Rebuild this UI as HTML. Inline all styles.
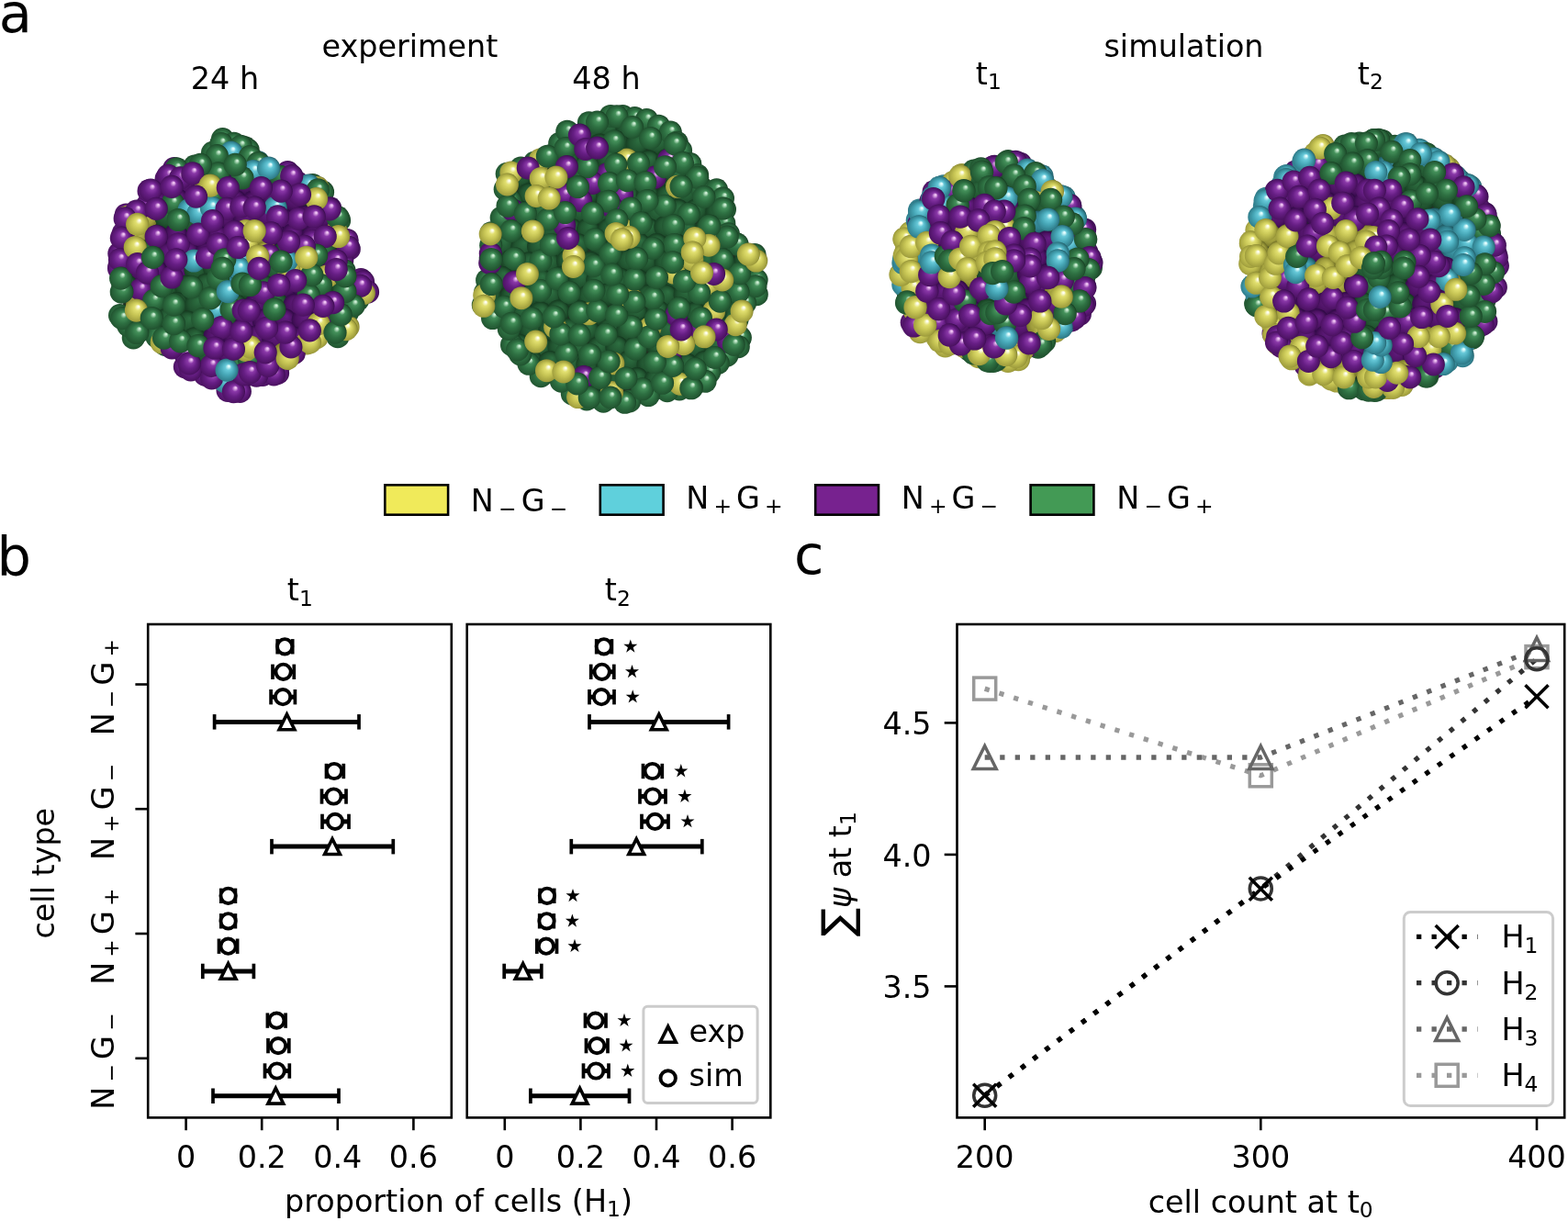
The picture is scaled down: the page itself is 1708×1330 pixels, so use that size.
<!DOCTYPE html>
<html><head><meta charset="utf-8"><style>html,body{margin:0;padding:0;background:#fff;}svg{display:block;}</style></head>
<body><svg width="1708" height="1330" viewBox="0 0 1708 1330" font-family="DejaVu Sans, Liberation Sans, sans-serif">
<rect width="1708" height="1330" fill="#fff"/>
<text x="-1.3" y="35.2" font-size="59" text-anchor="start" >a</text>
<text x="446.5" y="62.3" font-size="33.4" text-anchor="middle" >experiment</text>
<text x="1289.5" y="62.3" font-size="33.4" text-anchor="middle" >simulation</text>
<text x="245.0" y="97.2" font-size="33.4" text-anchor="middle" >24 h</text>
<text x="660.5" y="97.2" font-size="33.4" text-anchor="middle" >48 h</text>
<text x="1062.8" y="91.8" font-size="33.4" text-anchor="start">t<tspan font-size="23.38" dy="5.2">1</tspan></text>
<text x="1478.8" y="91.8" font-size="33.4" text-anchor="start">t<tspan font-size="23.38" dy="5.2">2</tspan></text>
<defs><radialGradient id="sP" cx="0.44" cy="0.56" r="0.6" fx="0.6" fy="0.32"><stop offset="0" stop-color="#f0c4f4"/><stop offset="0.05" stop-color="#f0c4f4" stop-opacity="1"/><stop offset="0.22" stop-color="#8a38a8"/><stop offset="0.48" stop-color="#661e84"/><stop offset="0.8" stop-color="#4c1262"/><stop offset="1" stop-color="#2a0840"/></radialGradient><radialGradient id="sG" cx="0.44" cy="0.56" r="0.6" fx="0.6" fy="0.32"><stop offset="0" stop-color="#cdeed4"/><stop offset="0.05" stop-color="#cdeed4" stop-opacity="1"/><stop offset="0.22" stop-color="#44905a"/><stop offset="0.48" stop-color="#2e7042"/><stop offset="0.8" stop-color="#215430"/><stop offset="1" stop-color="#12341c"/></radialGradient><radialGradient id="sY" cx="0.44" cy="0.56" r="0.6" fx="0.6" fy="0.32"><stop offset="0" stop-color="#fffff0"/><stop offset="0.05" stop-color="#fffff0" stop-opacity="1"/><stop offset="0.22" stop-color="#e2e070"/><stop offset="0.48" stop-color="#c6c454"/><stop offset="0.8" stop-color="#9e9c3c"/><stop offset="1" stop-color="#686822"/></radialGradient><radialGradient id="sC" cx="0.44" cy="0.56" r="0.6" fx="0.6" fy="0.32"><stop offset="0" stop-color="#e4ffff"/><stop offset="0.05" stop-color="#e4ffff" stop-opacity="1"/><stop offset="0.22" stop-color="#66c8d8"/><stop offset="0.48" stop-color="#46a6b6"/><stop offset="0.8" stop-color="#2f7c8a"/><stop offset="1" stop-color="#1a4e56"/></radialGradient><radialGradient id="sPd" cx="0.46" cy="0.54" r="0.56" fx="0.6" fy="0.32"><stop offset="0" stop-color="#661e84"/><stop offset="0.6" stop-color="#4c1262"/><stop offset="1" stop-color="#2a0840"/></radialGradient><radialGradient id="sGd" cx="0.46" cy="0.54" r="0.56" fx="0.6" fy="0.32"><stop offset="0" stop-color="#2e7042"/><stop offset="0.6" stop-color="#215430"/><stop offset="1" stop-color="#12341c"/></radialGradient><radialGradient id="sYd" cx="0.46" cy="0.54" r="0.56" fx="0.6" fy="0.32"><stop offset="0" stop-color="#c6c454"/><stop offset="0.6" stop-color="#9e9c3c"/><stop offset="1" stop-color="#686822"/></radialGradient><radialGradient id="sCd" cx="0.46" cy="0.54" r="0.56" fx="0.6" fy="0.32"><stop offset="0" stop-color="#46a6b6"/><stop offset="0.6" stop-color="#2f7c8a"/><stop offset="1" stop-color="#1a4e56"/></radialGradient></defs>
<polygon points="243.1,154.7 266.8,162.8 270.1,165.1 280.9,176.9 289.6,183.4 313.4,187.7 324.2,198.5 340.4,201.9 351.2,209.4 348.0,222.4 359.9,226.7 369.7,239.8 367.5,252.7 378.3,261.4 380.5,271.1 374.0,283.1 376.2,294.9 392.4,304.7 394.5,306.8 398.9,317.7 389.1,326.3 378.3,340.4 378.3,355.6 367.5,366.4 345.8,368.6 335.0,375.0 320.9,385.9 308.0,394.6 302.6,406.4 286.3,408.6 270.1,408.6 270.1,420.6 261.4,424.9 248.4,423.8 245.1,415.1 223.5,407.5 201.8,398.9 201.8,385.9 180.2,375.0 171.5,366.4 147.8,366.4 142.3,353.4 133.6,342.5 134.7,317.7 135.8,307.9 132.5,290.6 132.5,276.6 136.9,254.9 140.1,235.4 161.8,224.6 164.0,209.4 182.4,196.4 191.0,185.6 212.6,182.3 232.2,168.2" fill="#243024"/>
<circle cx="245.0" cy="164.1" r="12.6" fill="url(#sGd)"/>
<circle cx="235.3" cy="182.1" r="12.6" fill="url(#sGd)"/>
<circle cx="257.7" cy="184.0" r="12.6" fill="url(#sGd)"/>
<circle cx="277.8" cy="182.9" r="12.6" fill="url(#sCd)"/>
<circle cx="181.0" cy="202.2" r="12.6" fill="url(#sPd)"/>
<circle cx="201.3" cy="200.6" r="12.6" fill="url(#sPd)"/>
<circle cx="224.5" cy="202.3" r="12.6" fill="url(#sYd)"/>
<circle cx="246.9" cy="202.2" r="12.6" fill="url(#sPd)"/>
<circle cx="266.3" cy="200.5" r="12.6" fill="url(#sPd)"/>
<circle cx="288.0" cy="202.3" r="12.6" fill="url(#sPd)"/>
<circle cx="311.7" cy="199.5" r="12.6" fill="url(#sPd)"/>
<circle cx="170.8" cy="219.8" r="12.6" fill="url(#sPd)"/>
<circle cx="192.8" cy="217.7" r="12.6" fill="url(#sPd)"/>
<circle cx="215.1" cy="220.4" r="12.6" fill="url(#sPd)"/>
<circle cx="236.4" cy="220.5" r="12.6" fill="url(#sPd)"/>
<circle cx="256.0" cy="219.0" r="12.6" fill="url(#sPd)"/>
<circle cx="276.4" cy="219.9" r="12.6" fill="url(#sPd)"/>
<circle cx="297.6" cy="217.7" r="12.6" fill="url(#sPd)"/>
<circle cx="319.6" cy="218.1" r="12.6" fill="url(#sPd)"/>
<circle cx="159.1" cy="237.4" r="12.6" fill="url(#sYd)"/>
<circle cx="180.9" cy="236.5" r="12.6" fill="url(#sGd)"/>
<circle cx="204.2" cy="239.8" r="12.6" fill="url(#sGd)"/>
<circle cx="224.2" cy="237.9" r="12.6" fill="url(#sPd)"/>
<circle cx="244.2" cy="236.4" r="12.6" fill="url(#sPd)"/>
<circle cx="266.5" cy="237.0" r="12.6" fill="url(#sPd)"/>
<circle cx="289.8" cy="236.7" r="12.6" fill="url(#sPd)"/>
<circle cx="308.2" cy="239.6" r="12.6" fill="url(#sPd)"/>
<circle cx="331.5" cy="236.6" r="12.6" fill="url(#sPd)"/>
<circle cx="353.0" cy="236.1" r="12.6" fill="url(#sPd)"/>
<circle cx="148.1" cy="257.5" r="12.6" fill="url(#sYd)"/>
<circle cx="170.9" cy="257.5" r="12.6" fill="url(#sPd)"/>
<circle cx="191.5" cy="255.4" r="12.6" fill="url(#sPd)"/>
<circle cx="214.8" cy="258.3" r="12.6" fill="url(#sPd)"/>
<circle cx="236.3" cy="257.6" r="12.6" fill="url(#sPd)"/>
<circle cx="257.6" cy="257.4" r="12.6" fill="url(#sPd)"/>
<circle cx="276.8" cy="256.6" r="12.6" fill="url(#sYd)"/>
<circle cx="298.7" cy="254.7" r="12.6" fill="url(#sPd)"/>
<circle cx="318.9" cy="255.7" r="12.6" fill="url(#sPd)"/>
<circle cx="341.2" cy="257.2" r="12.6" fill="url(#sPd)"/>
<circle cx="137.6" cy="274.0" r="12.6" fill="url(#sYd)"/>
<circle cx="158.9" cy="273.9" r="12.6" fill="url(#sGd)"/>
<circle cx="181.9" cy="276.5" r="12.6" fill="url(#sPd)"/>
<circle cx="204.2" cy="275.0" r="12.6" fill="url(#sPd)"/>
<circle cx="224.9" cy="276.2" r="12.6" fill="url(#sPd)"/>
<circle cx="244.2" cy="275.6" r="12.6" fill="url(#sGd)"/>
<circle cx="268.7" cy="276.1" r="12.6" fill="url(#sPd)"/>
<circle cx="289.5" cy="275.0" r="12.6" fill="url(#sYd)"/>
<circle cx="308.8" cy="276.1" r="12.6" fill="url(#sGd)"/>
<circle cx="330.8" cy="276.2" r="12.6" fill="url(#sYd)"/>
<circle cx="354.6" cy="274.6" r="12.6" fill="url(#sGd)"/>
<circle cx="150.9" cy="294.7" r="12.6" fill="url(#sPd)"/>
<circle cx="169.4" cy="294.8" r="12.6" fill="url(#sPd)"/>
<circle cx="194.0" cy="294.2" r="12.6" fill="url(#sPd)"/>
<circle cx="213.0" cy="293.8" r="12.6" fill="url(#sGd)"/>
<circle cx="233.6" cy="291.7" r="12.6" fill="url(#sGd)"/>
<circle cx="258.2" cy="294.2" r="12.6" fill="url(#sGd)"/>
<circle cx="278.0" cy="295.2" r="12.6" fill="url(#sPd)"/>
<circle cx="299.0" cy="295.0" r="12.6" fill="url(#sGd)"/>
<circle cx="321.9" cy="292.5" r="12.6" fill="url(#sPd)"/>
<circle cx="341.2" cy="292.8" r="12.6" fill="url(#sGd)"/>
<circle cx="362.5" cy="293.9" r="12.6" fill="url(#sPd)"/>
<circle cx="138.1" cy="312.0" r="12.6" fill="url(#sGd)"/>
<circle cx="160.4" cy="313.7" r="12.6" fill="url(#sGd)"/>
<circle cx="181.2" cy="313.7" r="12.6" fill="url(#sGd)"/>
<circle cx="202.9" cy="312.3" r="12.6" fill="url(#sGd)"/>
<circle cx="224.4" cy="310.3" r="12.6" fill="url(#sGd)"/>
<circle cx="245.5" cy="310.9" r="12.6" fill="url(#sCd)"/>
<circle cx="265.3" cy="313.3" r="12.6" fill="url(#sGd)"/>
<circle cx="287.3" cy="312.0" r="12.6" fill="url(#sGd)"/>
<circle cx="310.8" cy="312.3" r="12.6" fill="url(#sPd)"/>
<circle cx="330.7" cy="312.2" r="12.6" fill="url(#sPd)"/>
<circle cx="353.0" cy="313.2" r="12.6" fill="url(#sGd)"/>
<circle cx="372.8" cy="312.4" r="12.6" fill="url(#sGd)"/>
<circle cx="149.6" cy="331.7" r="12.6" fill="url(#sYd)"/>
<circle cx="172.3" cy="330.5" r="12.6" fill="url(#sGd)"/>
<circle cx="192.6" cy="330.7" r="12.6" fill="url(#sGd)"/>
<circle cx="213.6" cy="331.4" r="12.6" fill="url(#sGd)"/>
<circle cx="234.8" cy="330.8" r="12.6" fill="url(#sGd)"/>
<circle cx="256.3" cy="332.4" r="12.6" fill="url(#sGd)"/>
<circle cx="278.6" cy="332.1" r="12.6" fill="url(#sPd)"/>
<circle cx="300.9" cy="329.8" r="12.6" fill="url(#sGd)"/>
<circle cx="320.9" cy="332.4" r="12.6" fill="url(#sPd)"/>
<circle cx="343.4" cy="329.3" r="12.6" fill="url(#sPd)"/>
<circle cx="362.1" cy="330.5" r="12.6" fill="url(#sPd)"/>
<circle cx="158.7" cy="350.1" r="12.6" fill="url(#sGd)"/>
<circle cx="182.1" cy="347.9" r="12.6" fill="url(#sGd)"/>
<circle cx="204.3" cy="351.0" r="12.6" fill="url(#sGd)"/>
<circle cx="223.2" cy="350.9" r="12.6" fill="url(#sGd)"/>
<circle cx="245.3" cy="349.2" r="12.6" fill="url(#sGd)"/>
<circle cx="269.0" cy="350.5" r="12.6" fill="url(#sPd)"/>
<circle cx="287.3" cy="349.0" r="12.6" fill="url(#sPd)"/>
<circle cx="310.0" cy="348.6" r="12.6" fill="url(#sPd)"/>
<circle cx="330.2" cy="348.6" r="12.6" fill="url(#sPd)"/>
<circle cx="353.7" cy="347.4" r="12.6" fill="url(#sPd)"/>
<circle cx="190.7" cy="366.9" r="12.6" fill="url(#sGd)"/>
<circle cx="211.8" cy="368.8" r="12.6" fill="url(#sGd)"/>
<circle cx="234.1" cy="366.4" r="12.6" fill="url(#sPd)"/>
<circle cx="256.1" cy="369.3" r="12.6" fill="url(#sPd)"/>
<circle cx="279.1" cy="366.9" r="12.6" fill="url(#sPd)"/>
<circle cx="297.9" cy="369.4" r="12.6" fill="url(#sPd)"/>
<circle cx="321.0" cy="368.5" r="12.6" fill="url(#sPd)"/>
<circle cx="223.4" cy="384.9" r="12.6" fill="url(#sGd)"/>
<circle cx="245.8" cy="385.3" r="12.6" fill="url(#sPd)"/>
<circle cx="265.7" cy="385.1" r="12.6" fill="url(#sPd)"/>
<circle cx="286.9" cy="385.2" r="12.6" fill="url(#sPd)"/>
<circle cx="309.3" cy="385.6" r="12.6" fill="url(#sYd)"/>
<circle cx="234.6" cy="404.9" r="12.6" fill="url(#sCd)"/>
<circle cx="257.1" cy="406.7" r="12.6" fill="url(#sPd)"/>
<circle cx="242.5" cy="151.6" r="12.6" fill="url(#sG)"/>
<circle cx="254.7" cy="156.3" r="12.6" fill="url(#sG)"/>
<circle cx="266.8" cy="160.8" r="12.6" fill="url(#sG)"/>
<circle cx="270.1" cy="163.4" r="12.6" fill="url(#sG)"/>
<circle cx="280.9" cy="176.5" r="12.6" fill="url(#sC)"/>
<circle cx="289.6" cy="183.6" r="12.6" fill="url(#sC)"/>
<circle cx="313.4" cy="187.7" r="12.6" fill="url(#sP)"/>
<circle cx="324.0" cy="199.0" r="12.6" fill="url(#sP)"/>
<circle cx="340.6" cy="201.7" r="12.6" fill="url(#sG)"/>
<circle cx="351.5" cy="209.2" r="12.6" fill="url(#sG)"/>
<circle cx="347.3" cy="223.1" r="12.6" fill="url(#sY)"/>
<circle cx="359.7" cy="226.9" r="12.6" fill="url(#sP)"/>
<circle cx="369.5" cy="239.9" r="12.6" fill="url(#sG)"/>
<circle cx="366.6" cy="253.2" r="12.6" fill="url(#sY)"/>
<circle cx="378.1" cy="261.5" r="12.6" fill="url(#sP)"/>
<circle cx="380.2" cy="271.2" r="12.6" fill="url(#sP)"/>
<circle cx="372.7" cy="283.2" r="12.6" fill="url(#sP)"/>
<circle cx="375.0" cy="294.9" r="12.6" fill="url(#sG)"/>
<circle cx="393.1" cy="304.7" r="12.6" fill="url(#sP)"/>
<circle cx="395.5" cy="306.9" r="12.6" fill="url(#sP)"/>
<circle cx="400.5" cy="318.0" r="12.6" fill="url(#sP)"/>
<circle cx="389.8" cy="326.5" r="12.6" fill="url(#sG)"/>
<circle cx="378.4" cy="340.4" r="12.6" fill="url(#sG)"/>
<circle cx="379.0" cy="356.0" r="12.6" fill="url(#sY)"/>
<circle cx="367.9" cy="366.7" r="12.6" fill="url(#sG)"/>
<circle cx="344.9" cy="367.7" r="12.6" fill="url(#sY)"/>
<circle cx="334.1" cy="373.8" r="12.6" fill="url(#sY)"/>
<circle cx="320.2" cy="384.7" r="12.6" fill="url(#sP)"/>
<circle cx="307.5" cy="393.5" r="12.6" fill="url(#sY)"/>
<circle cx="302.5" cy="406.4" r="12.6" fill="url(#sP)"/>
<circle cx="286.2" cy="408.4" r="12.6" fill="url(#sP)"/>
<circle cx="270.1" cy="408.2" r="12.6" fill="url(#sP)"/>
<circle cx="261.3" cy="426.4" r="12.6" fill="url(#sP)"/>
<circle cx="248.1" cy="425.3" r="12.6" fill="url(#sP)"/>
<circle cx="245.0" cy="415.7" r="12.6" fill="url(#sC)"/>
<circle cx="223.3" cy="408.1" r="12.6" fill="url(#sP)"/>
<circle cx="201.4" cy="399.6" r="12.6" fill="url(#sP)"/>
<circle cx="202.0" cy="385.7" r="12.6" fill="url(#sP)"/>
<circle cx="179.9" cy="375.4" r="12.6" fill="url(#sG)"/>
<circle cx="171.0" cy="366.8" r="12.6" fill="url(#sG)"/>
<circle cx="145.3" cy="367.8" r="12.6" fill="url(#sG)"/>
<circle cx="139.7" cy="354.6" r="12.6" fill="url(#sG)"/>
<circle cx="130.6" cy="343.6" r="12.6" fill="url(#sG)"/>
<circle cx="132.3" cy="318.1" r="12.6" fill="url(#sG)"/>
<circle cx="133.6" cy="308.1" r="12.6" fill="url(#sG)"/>
<circle cx="130.0" cy="290.5" r="12.6" fill="url(#sP)"/>
<circle cx="129.9" cy="276.2" r="12.6" fill="url(#sP)"/>
<circle cx="134.3" cy="254.1" r="12.6" fill="url(#sP)"/>
<circle cx="137.3" cy="234.0" r="12.6" fill="url(#sP)"/>
<circle cx="160.4" cy="223.7" r="12.6" fill="url(#sP)"/>
<circle cx="162.1" cy="207.9" r="12.6" fill="url(#sP)"/>
<circle cx="181.1" cy="194.9" r="12.6" fill="url(#sP)"/>
<circle cx="189.7" cy="183.7" r="12.6" fill="url(#sP)"/>
<circle cx="212.0" cy="181.2" r="12.6" fill="url(#sG)"/>
<circle cx="231.6" cy="166.3" r="12.6" fill="url(#sG)"/>
<circle cx="140.1" cy="235.9" r="12.6" fill="url(#sY)"/>
<circle cx="241.0" cy="156.5" r="12.6" fill="url(#sG)"/>
<circle cx="148.4" cy="362.5" r="12.6" fill="url(#sG)"/>
<circle cx="148.7" cy="230.1" r="12.6" fill="url(#sP)"/>
<circle cx="262.2" cy="159.4" r="12.6" fill="url(#sG)"/>
<circle cx="192.3" cy="183.8" r="12.6" fill="url(#sG)"/>
<circle cx="183.1" cy="191.3" r="12.6" fill="url(#sP)"/>
<circle cx="252.0" cy="166.1" r="12.6" fill="url(#sC)"/>
<circle cx="236.3" cy="169.7" r="12.6" fill="url(#sG)"/>
<circle cx="396.3" cy="319.3" r="12.6" fill="url(#sY)"/>
<circle cx="196.6" cy="193.8" r="12.6" fill="url(#sP)"/>
<circle cx="272.3" cy="170.6" r="12.6" fill="url(#sG)"/>
<circle cx="207.8" cy="402.9" r="12.6" fill="url(#sP)"/>
<circle cx="230.6" cy="411.8" r="12.6" fill="url(#sP)"/>
<circle cx="176.3" cy="373.0" r="12.6" fill="url(#sY)"/>
<circle cx="281.3" cy="177.7" r="12.6" fill="url(#sG)"/>
<circle cx="153.3" cy="315.3" r="12.6" fill="url(#sP)"/>
<circle cx="345.8" cy="204.4" r="12.6" fill="url(#sY)"/>
<circle cx="187.2" cy="378.9" r="12.6" fill="url(#sP)"/>
<circle cx="178.6" cy="368.2" r="12.6" fill="url(#sG)"/>
<circle cx="298.3" cy="407.9" r="12.6" fill="url(#sP)"/>
<circle cx="336.2" cy="202.2" r="12.6" fill="url(#sC)"/>
<circle cx="279.4" cy="409.2" r="12.6" fill="url(#sP)"/>
<circle cx="237.5" cy="188.9" r="12.6" fill="url(#sG)"/>
<circle cx="188.2" cy="221.4" r="12.6" fill="url(#sG)"/>
<circle cx="230.3" cy="398.3" r="12.6" fill="url(#sP)"/>
<circle cx="276.0" cy="186.5" r="12.6" fill="url(#sC)"/>
<circle cx="306.1" cy="192.6" r="12.6" fill="url(#sG)"/>
<circle cx="167.7" cy="327.3" r="12.6" fill="url(#sG)"/>
<circle cx="264.0" cy="193.8" r="12.6" fill="url(#sG)"/>
<circle cx="261.6" cy="394.7" r="12.6" fill="url(#sG)"/>
<circle cx="347.0" cy="352.6" r="12.6" fill="url(#sY)"/>
<circle cx="271.2" cy="391.1" r="12.6" fill="url(#sG)"/>
<circle cx="206.2" cy="228.6" r="12.6" fill="url(#sC)"/>
<circle cx="230.3" cy="214.2" r="12.6" fill="url(#sG)"/>
<circle cx="356.6" cy="300.8" r="12.6" fill="url(#sY)"/>
<circle cx="267.6" cy="381.4" r="12.6" fill="url(#sY)"/>
<circle cx="215.9" cy="232.3" r="12.6" fill="url(#sC)"/>
<circle cx="272.4" cy="377.8" r="12.6" fill="url(#sY)"/>
<circle cx="230.3" cy="226.2" r="12.6" fill="url(#sC)"/>
<circle cx="349.4" cy="310.5" r="12.6" fill="url(#sG)"/>
<circle cx="325.3" cy="238.3" r="12.6" fill="url(#sP)"/>
<circle cx="341.0" cy="262.3" r="12.6" fill="url(#sP)"/>
<circle cx="300.1" cy="226.2" r="12.6" fill="url(#sC)"/>
<circle cx="336.2" cy="321.3" r="12.6" fill="url(#sG)"/>
<circle cx="236.3" cy="352.6" r="12.6" fill="url(#sP)"/>
<circle cx="335.0" cy="292.4" r="12.6" fill="url(#sY)"/>
<circle cx="211.1" cy="284.0" r="12.6" fill="url(#sC)"/>
<circle cx="235.1" cy="338.1" r="12.6" fill="url(#sC)"/>
<circle cx="225.5" cy="280.4" r="12.6" fill="url(#sP)"/>
<circle cx="267.6" cy="251.5" r="12.6" fill="url(#sY)"/>
<circle cx="314.5" cy="293.6" r="12.6" fill="url(#sY)"/>
<circle cx="312.1" cy="284.0" r="12.6" fill="url(#sC)"/>
<circle cx="268.8" cy="265.9" r="12.6" fill="url(#sY)"/>
<circle cx="292.9" cy="278.0" r="12.6" fill="url(#sP)"/>
<circle cx="286.8" cy="318.9" r="12.6" fill="url(#sP)"/>
<circle cx="261.6" cy="285.2" r="12.6" fill="url(#sC)"/>
<circle cx="260.4" cy="292.4" r="12.6" fill="url(#sC)"/>
<circle cx="241.4" cy="356.6" r="12.6" fill="url(#sP)"/>
<circle cx="132.9" cy="346.7" r="12.6" fill="url(#sG)"/>
<circle cx="136.2" cy="237.9" r="12.6" fill="url(#sP)"/>
<circle cx="132.4" cy="259.2" r="12.6" fill="url(#sP)"/>
<circle cx="129.6" cy="292.5" r="12.6" fill="url(#sP)"/>
<circle cx="130.5" cy="282.8" r="12.6" fill="url(#sP)"/>
<circle cx="132.9" cy="317.7" r="12.6" fill="url(#sG)"/>
<circle cx="131.7" cy="303.2" r="12.6" fill="url(#sG)"/>
<circle cx="164.1" cy="207.0" r="12.6" fill="url(#sP)"/>
<circle cx="149.7" cy="362.2" r="12.6" fill="url(#sG)"/>
<circle cx="149.7" cy="244.3" r="12.6" fill="url(#sY)"/>
<circle cx="254.4" cy="426.6" r="12.6" fill="url(#sP)"/>
<circle cx="148.5" cy="338.1" r="12.6" fill="url(#sY)"/>
<circle cx="218.3" cy="179.3" r="12.6" fill="url(#sG)"/>
<circle cx="147.3" cy="269.5" r="12.6" fill="url(#sY)"/>
<circle cx="187.0" cy="203.4" r="12.6" fill="url(#sP)"/>
<circle cx="377.0" cy="358.6" r="12.6" fill="url(#sY)"/>
<circle cx="209.8" cy="188.9" r="12.6" fill="url(#sP)"/>
<circle cx="392.6" cy="311.3" r="12.6" fill="url(#sP)"/>
<circle cx="170.2" cy="227.4" r="12.6" fill="url(#sP)"/>
<circle cx="149.7" cy="287.6" r="12.6" fill="url(#sP)"/>
<circle cx="385.1" cy="332.8" r="12.6" fill="url(#sG)"/>
<circle cx="206.2" cy="395.9" r="12.6" fill="url(#sP)"/>
<circle cx="256.2" cy="179.3" r="12.6" fill="url(#sG)"/>
<circle cx="346.3" cy="206.9" r="12.6" fill="url(#sG)"/>
<circle cx="165.3" cy="346.5" r="12.6" fill="url(#sG)"/>
<circle cx="365.0" cy="362.2" r="12.6" fill="url(#sG)"/>
<circle cx="292.6" cy="183.2" r="12.6" fill="url(#sC)"/>
<circle cx="317.7" cy="191.7" r="12.6" fill="url(#sP)"/>
<circle cx="368.1" cy="236.9" r="12.6" fill="url(#sG)"/>
<circle cx="265.2" cy="407.9" r="12.6" fill="url(#sP)"/>
<circle cx="359.1" cy="227.8" r="12.6" fill="url(#sP)"/>
<circle cx="379.0" cy="269.1" r="12.6" fill="url(#sP)"/>
<circle cx="371.1" cy="342.9" r="12.6" fill="url(#sG)"/>
<circle cx="160.5" cy="297.2" r="12.6" fill="url(#sP)"/>
<circle cx="247.1" cy="403.1" r="12.6" fill="url(#sC)"/>
<circle cx="272.4" cy="405.5" r="12.6" fill="url(#sP)"/>
<circle cx="344.6" cy="216.6" r="12.6" fill="url(#sY)"/>
<circle cx="170.2" cy="257.5" r="12.6" fill="url(#sP)"/>
<circle cx="375.9" cy="317.7" r="12.6" fill="url(#sG)"/>
<circle cx="196.6" cy="371.8" r="12.6" fill="url(#sG)"/>
<circle cx="368.6" cy="257.5" r="12.6" fill="url(#sY)"/>
<circle cx="375.9" cy="300.8" r="12.6" fill="url(#sG)"/>
<circle cx="166.5" cy="280.4" r="12.6" fill="url(#sG)"/>
<circle cx="291.7" cy="398.3" r="12.6" fill="url(#sP)"/>
<circle cx="313.2" cy="390.4" r="12.6" fill="url(#sY)"/>
<circle cx="229.1" cy="202.2" r="12.6" fill="url(#sY)"/>
<circle cx="337.5" cy="372.8" r="12.6" fill="url(#sY)"/>
<circle cx="326.5" cy="211.8" r="12.6" fill="url(#sP)"/>
<circle cx="213.5" cy="214.2" r="12.6" fill="url(#sP)"/>
<circle cx="189.4" cy="352.6" r="12.6" fill="url(#sG)"/>
<circle cx="362.6" cy="329.7" r="12.6" fill="url(#sP)"/>
<circle cx="215.9" cy="376.6" r="12.6" fill="url(#sG)"/>
<circle cx="366.2" cy="284.0" r="12.6" fill="url(#sP)"/>
<circle cx="176.2" cy="311.7" r="12.6" fill="url(#sG)"/>
<circle cx="366.2" cy="293.6" r="12.6" fill="url(#sP)"/>
<circle cx="194.2" cy="239.5" r="12.6" fill="url(#sG)"/>
<circle cx="306.1" cy="208.2" r="12.6" fill="url(#sP)"/>
<circle cx="248.3" cy="204.6" r="12.6" fill="url(#sP)"/>
<circle cx="316.9" cy="377.8" r="12.6" fill="url(#sP)"/>
<circle cx="342.2" cy="235.9" r="12.6" fill="url(#sP)"/>
<circle cx="284.4" cy="204.6" r="12.6" fill="url(#sP)"/>
<circle cx="337.4" cy="359.8" r="12.6" fill="url(#sP)"/>
<circle cx="354.2" cy="257.5" r="12.6" fill="url(#sP)"/>
<circle cx="233.9" cy="379.0" r="12.6" fill="url(#sP)"/>
<circle cx="289.2" cy="383.8" r="12.6" fill="url(#sP)"/>
<circle cx="351.8" cy="333.3" r="12.6" fill="url(#sP)"/>
<circle cx="189.4" cy="332.1" r="12.6" fill="url(#sG)"/>
<circle cx="254.4" cy="380.2" r="12.6" fill="url(#sP)"/>
<circle cx="187.0" cy="302.0" r="12.6" fill="url(#sP)"/>
<circle cx="194.2" cy="265.9" r="12.6" fill="url(#sP)"/>
<circle cx="191.8" cy="282.8" r="12.6" fill="url(#sP)"/>
<circle cx="310.9" cy="362.2" r="12.6" fill="url(#sP)"/>
<circle cx="344.6" cy="278.0" r="12.6" fill="url(#sG)"/>
<circle cx="247.1" cy="227.4" r="12.6" fill="url(#sP)"/>
<circle cx="220.7" cy="347.7" r="12.6" fill="url(#sG)"/>
<circle cx="262.8" cy="225.0" r="12.6" fill="url(#sP)"/>
<circle cx="277.2" cy="226.2" r="12.6" fill="url(#sP)"/>
<circle cx="330.2" cy="332.1" r="12.6" fill="url(#sP)"/>
<circle cx="339.8" cy="299.6" r="12.6" fill="url(#sG)"/>
<circle cx="215.9" cy="255.1" r="12.6" fill="url(#sP)"/>
<circle cx="302.5" cy="235.9" r="12.6" fill="url(#sP)"/>
<circle cx="231.5" cy="240.7" r="12.6" fill="url(#sP)"/>
<circle cx="331.4" cy="268.3" r="12.6" fill="url(#sP)"/>
<circle cx="262.8" cy="361.0" r="12.6" fill="url(#sP)"/>
<circle cx="333.8" cy="280.4" r="12.6" fill="url(#sY)"/>
<circle cx="290.5" cy="357.4" r="12.6" fill="url(#sP)"/>
<circle cx="208.6" cy="312.9" r="12.6" fill="url(#sG)"/>
<circle cx="314.5" cy="263.5" r="12.6" fill="url(#sP)"/>
<circle cx="321.7" cy="305.6" r="12.6" fill="url(#sP)"/>
<circle cx="229.1" cy="324.9" r="12.6" fill="url(#sG)"/>
<circle cx="298.9" cy="336.9" r="12.6" fill="url(#sG)"/>
<circle cx="295.3" cy="253.9" r="12.6" fill="url(#sP)"/>
<circle cx="255.6" cy="252.7" r="12.6" fill="url(#sP)"/>
<circle cx="277.2" cy="251.5" r="12.6" fill="url(#sY)"/>
<circle cx="252.0" cy="336.9" r="12.6" fill="url(#sG)"/>
<circle cx="237.5" cy="265.9" r="12.6" fill="url(#sP)"/>
<circle cx="265.2" cy="338.1" r="12.6" fill="url(#sP)"/>
<circle cx="271.2" cy="338.1" r="12.6" fill="url(#sP)"/>
<circle cx="306.1" cy="285.2" r="12.6" fill="url(#sG)"/>
<circle cx="303.7" cy="310.5" r="12.6" fill="url(#sP)"/>
<circle cx="237.5" cy="303.2" r="12.6" fill="url(#sG)"/>
<circle cx="248.3" cy="317.7" r="12.6" fill="url(#sC)"/>
<circle cx="244.7" cy="282.8" r="12.6" fill="url(#sG)"/>
<circle cx="259.2" cy="269.5" r="12.6" fill="url(#sP)"/>
<circle cx="242.3" cy="292.4" r="12.6" fill="url(#sG)"/>
<circle cx="280.8" cy="279.2" r="12.6" fill="url(#sY)"/>
<circle cx="264.0" cy="309.2" r="12.6" fill="url(#sG)"/>
<circle cx="272.4" cy="310.5" r="12.6" fill="url(#sG)"/>
<circle cx="282.0" cy="292.4" r="12.6" fill="url(#sP)"/>
<polygon points="665.9,131.6 678.6,131.6 703.9,135.1 729.2,147.7 736.1,158.0 740.7,166.1 751.1,179.9 759.1,191.4 763.7,204.1 779.8,207.5 786.7,216.7 789.1,228.2 789.1,243.2 793.7,254.7 802.8,266.2 820.1,277.7 820.7,283.5 821.9,304.8 821.9,320.2 810.1,329.7 801.8,347.5 804.2,366.4 801.8,375.9 790.0,385.4 780.5,393.6 771.1,403.1 766.3,412.5 752.1,419.6 726.1,423.2 705.9,428.0 685.7,433.9 680.8,435.0 658.0,433.9 640.3,431.4 624.9,425.6 613.0,412.5 591.7,406.7 578.7,393.6 560.9,373.5 557.4,356.9 540.8,345.0 531.3,330.9 534.9,304.8 538.4,283.5 538.1,281.1 539.3,254.7 549.7,238.6 558.8,220.2 554.3,208.7 556.6,192.6 585.3,179.9 603.8,171.9 619.9,147.7 642.8,138.5" fill="#243024"/>
<circle cx="643.3" cy="140.0" r="12.5" fill="url(#sGd)"/>
<circle cx="662.4" cy="139.5" r="12.5" fill="url(#sGd)"/>
<circle cx="682.8" cy="138.7" r="12.5" fill="url(#sGd)"/>
<circle cx="703.6" cy="138.2" r="12.5" fill="url(#sGd)"/>
<circle cx="630.0" cy="157.9" r="12.5" fill="url(#sGd)"/>
<circle cx="653.3" cy="158.0" r="12.5" fill="url(#sGd)"/>
<circle cx="672.2" cy="154.9" r="12.5" fill="url(#sGd)"/>
<circle cx="694.0" cy="156.9" r="12.5" fill="url(#sGd)"/>
<circle cx="716.8" cy="157.0" r="12.5" fill="url(#sGd)"/>
<circle cx="618.6" cy="174.4" r="12.5" fill="url(#sGd)"/>
<circle cx="641.6" cy="173.7" r="12.5" fill="url(#sGd)"/>
<circle cx="662.5" cy="174.2" r="12.5" fill="url(#sGd)"/>
<circle cx="685.6" cy="176.5" r="12.5" fill="url(#sGd)"/>
<circle cx="706.5" cy="176.0" r="12.5" fill="url(#sGd)"/>
<circle cx="726.8" cy="174.2" r="12.5" fill="url(#sGd)"/>
<circle cx="567.0" cy="192.4" r="12.5" fill="url(#sGd)"/>
<circle cx="589.1" cy="193.5" r="12.5" fill="url(#sGd)"/>
<circle cx="611.4" cy="191.7" r="12.5" fill="url(#sGd)"/>
<circle cx="631.1" cy="192.5" r="12.5" fill="url(#sGd)"/>
<circle cx="651.3" cy="193.6" r="12.5" fill="url(#sGd)"/>
<circle cx="673.3" cy="192.2" r="12.5" fill="url(#sGd)"/>
<circle cx="695.9" cy="193.1" r="12.5" fill="url(#sGd)"/>
<circle cx="717.4" cy="192.2" r="12.5" fill="url(#sGd)"/>
<circle cx="736.5" cy="192.4" r="12.5" fill="url(#sGd)"/>
<circle cx="576.0" cy="211.8" r="12.5" fill="url(#sGd)"/>
<circle cx="599.8" cy="212.2" r="12.5" fill="url(#sGd)"/>
<circle cx="618.9" cy="213.8" r="12.5" fill="url(#sGd)"/>
<circle cx="640.9" cy="210.3" r="12.5" fill="url(#sGd)"/>
<circle cx="661.6" cy="213.4" r="12.5" fill="url(#sGd)"/>
<circle cx="684.1" cy="213.1" r="12.5" fill="url(#sGd)"/>
<circle cx="705.3" cy="212.5" r="12.5" fill="url(#sGd)"/>
<circle cx="727.1" cy="213.8" r="12.5" fill="url(#sGd)"/>
<circle cx="746.5" cy="212.1" r="12.5" fill="url(#sGd)"/>
<circle cx="767.3" cy="211.6" r="12.5" fill="url(#sGd)"/>
<circle cx="566.9" cy="231.1" r="12.5" fill="url(#sGd)"/>
<circle cx="587.6" cy="231.5" r="12.5" fill="url(#sGd)"/>
<circle cx="610.9" cy="228.7" r="12.5" fill="url(#sGd)"/>
<circle cx="630.8" cy="231.1" r="12.5" fill="url(#sGd)"/>
<circle cx="653.1" cy="231.9" r="12.5" fill="url(#sGd)"/>
<circle cx="672.1" cy="229.8" r="12.5" fill="url(#sGd)"/>
<circle cx="694.0" cy="231.6" r="12.5" fill="url(#sGd)"/>
<circle cx="714.6" cy="232.0" r="12.5" fill="url(#sGd)"/>
<circle cx="738.6" cy="229.3" r="12.5" fill="url(#sGd)"/>
<circle cx="758.4" cy="228.9" r="12.5" fill="url(#sGd)"/>
<circle cx="781.0" cy="230.3" r="12.5" fill="url(#sGd)"/>
<circle cx="558.2" cy="248.5" r="12.5" fill="url(#sGd)"/>
<circle cx="576.9" cy="248.7" r="12.5" fill="url(#sGd)"/>
<circle cx="598.3" cy="249.2" r="12.5" fill="url(#sGd)"/>
<circle cx="621.6" cy="249.7" r="12.5" fill="url(#sGd)"/>
<circle cx="640.4" cy="250.0" r="12.5" fill="url(#sGd)"/>
<circle cx="663.8" cy="250.0" r="12.5" fill="url(#sGd)"/>
<circle cx="683.8" cy="249.5" r="12.5" fill="url(#sGd)"/>
<circle cx="706.1" cy="249.7" r="12.5" fill="url(#sGd)"/>
<circle cx="724.8" cy="247.2" r="12.5" fill="url(#sGd)"/>
<circle cx="747.6" cy="250.1" r="12.5" fill="url(#sGd)"/>
<circle cx="769.9" cy="248.9" r="12.5" fill="url(#sGd)"/>
<circle cx="547.3" cy="266.4" r="12.5" fill="url(#sGd)"/>
<circle cx="568.9" cy="269.0" r="12.5" fill="url(#sGd)"/>
<circle cx="586.5" cy="268.5" r="12.5" fill="url(#sGd)"/>
<circle cx="607.9" cy="268.6" r="12.5" fill="url(#sGd)"/>
<circle cx="629.8" cy="266.7" r="12.5" fill="url(#sGd)"/>
<circle cx="653.8" cy="267.0" r="12.5" fill="url(#sGd)"/>
<circle cx="672.0" cy="266.9" r="12.5" fill="url(#sGd)"/>
<circle cx="695.9" cy="266.0" r="12.5" fill="url(#sGd)"/>
<circle cx="715.3" cy="266.4" r="12.5" fill="url(#sGd)"/>
<circle cx="736.2" cy="266.5" r="12.5" fill="url(#sGd)"/>
<circle cx="756.9" cy="267.5" r="12.5" fill="url(#sGd)"/>
<circle cx="780.2" cy="267.1" r="12.5" fill="url(#sGd)"/>
<circle cx="557.0" cy="283.8" r="12.5" fill="url(#sGd)"/>
<circle cx="576.1" cy="286.8" r="12.5" fill="url(#sGd)"/>
<circle cx="597.6" cy="286.6" r="12.5" fill="url(#sGd)"/>
<circle cx="618.5" cy="284.3" r="12.5" fill="url(#sGd)"/>
<circle cx="643.0" cy="286.5" r="12.5" fill="url(#sGd)"/>
<circle cx="663.2" cy="285.1" r="12.5" fill="url(#sGd)"/>
<circle cx="683.9" cy="284.4" r="12.5" fill="url(#sGd)"/>
<circle cx="703.5" cy="284.5" r="12.5" fill="url(#sGd)"/>
<circle cx="725.0" cy="285.6" r="12.5" fill="url(#sGd)"/>
<circle cx="749.5" cy="285.7" r="12.5" fill="url(#sGd)"/>
<circle cx="768.4" cy="285.6" r="12.5" fill="url(#sGd)"/>
<circle cx="789.5" cy="287.4" r="12.5" fill="url(#sGd)"/>
<circle cx="812.2" cy="283.8" r="12.5" fill="url(#sGd)"/>
<circle cx="547.2" cy="302.3" r="12.5" fill="url(#sGd)"/>
<circle cx="568.7" cy="305.0" r="12.5" fill="url(#sGd)"/>
<circle cx="588.9" cy="304.9" r="12.5" fill="url(#sGd)"/>
<circle cx="611.1" cy="302.3" r="12.5" fill="url(#sGd)"/>
<circle cx="631.4" cy="304.1" r="12.5" fill="url(#sGd)"/>
<circle cx="650.7" cy="305.3" r="12.5" fill="url(#sGd)"/>
<circle cx="675.1" cy="304.0" r="12.5" fill="url(#sGd)"/>
<circle cx="694.1" cy="305.2" r="12.5" fill="url(#sGd)"/>
<circle cx="714.7" cy="305.7" r="12.5" fill="url(#sGd)"/>
<circle cx="735.6" cy="304.2" r="12.5" fill="url(#sGd)"/>
<circle cx="758.0" cy="302.8" r="12.5" fill="url(#sGd)"/>
<circle cx="779.2" cy="305.1" r="12.5" fill="url(#sGd)"/>
<circle cx="802.2" cy="305.8" r="12.5" fill="url(#sGd)"/>
<circle cx="533.6" cy="321.0" r="12.5" fill="url(#sGd)"/>
<circle cx="557.5" cy="322.7" r="12.5" fill="url(#sGd)"/>
<circle cx="577.5" cy="320.7" r="12.5" fill="url(#sGd)"/>
<circle cx="598.7" cy="322.0" r="12.5" fill="url(#sGd)"/>
<circle cx="620.1" cy="320.8" r="12.5" fill="url(#sGd)"/>
<circle cx="641.1" cy="322.6" r="12.5" fill="url(#sGd)"/>
<circle cx="662.5" cy="320.7" r="12.5" fill="url(#sGd)"/>
<circle cx="683.4" cy="322.4" r="12.5" fill="url(#sGd)"/>
<circle cx="705.5" cy="322.6" r="12.5" fill="url(#sGd)"/>
<circle cx="725.4" cy="322.3" r="12.5" fill="url(#sGd)"/>
<circle cx="746.0" cy="320.9" r="12.5" fill="url(#sGd)"/>
<circle cx="767.6" cy="322.5" r="12.5" fill="url(#sGd)"/>
<circle cx="788.3" cy="322.3" r="12.5" fill="url(#sGd)"/>
<circle cx="811.9" cy="322.7" r="12.5" fill="url(#sGd)"/>
<circle cx="546.2" cy="339.7" r="12.5" fill="url(#sGd)"/>
<circle cx="568.8" cy="339.8" r="12.5" fill="url(#sGd)"/>
<circle cx="588.7" cy="340.9" r="12.5" fill="url(#sGd)"/>
<circle cx="608.1" cy="339.0" r="12.5" fill="url(#sGd)"/>
<circle cx="631.1" cy="339.2" r="12.5" fill="url(#sGd)"/>
<circle cx="651.6" cy="341.8" r="12.5" fill="url(#sGd)"/>
<circle cx="674.9" cy="341.9" r="12.5" fill="url(#sGd)"/>
<circle cx="692.7" cy="340.2" r="12.5" fill="url(#sGd)"/>
<circle cx="716.7" cy="339.3" r="12.5" fill="url(#sGd)"/>
<circle cx="736.7" cy="339.6" r="12.5" fill="url(#sGd)"/>
<circle cx="757.1" cy="341.6" r="12.5" fill="url(#sGd)"/>
<circle cx="780.6" cy="340.6" r="12.5" fill="url(#sGd)"/>
<circle cx="801.3" cy="339.2" r="12.5" fill="url(#sGd)"/>
<circle cx="578.0" cy="358.7" r="12.5" fill="url(#sGd)"/>
<circle cx="598.8" cy="358.1" r="12.5" fill="url(#sGd)"/>
<circle cx="618.8" cy="359.1" r="12.5" fill="url(#sGd)"/>
<circle cx="640.3" cy="359.6" r="12.5" fill="url(#sGd)"/>
<circle cx="664.4" cy="358.2" r="12.5" fill="url(#sGd)"/>
<circle cx="683.6" cy="360.4" r="12.5" fill="url(#sGd)"/>
<circle cx="705.1" cy="357.3" r="12.5" fill="url(#sGd)"/>
<circle cx="726.0" cy="360.6" r="12.5" fill="url(#sGd)"/>
<circle cx="747.4" cy="359.1" r="12.5" fill="url(#sGd)"/>
<circle cx="770.2" cy="360.1" r="12.5" fill="url(#sGd)"/>
<circle cx="791.2" cy="358.1" r="12.5" fill="url(#sGd)"/>
<circle cx="565.5" cy="376.2" r="12.5" fill="url(#sGd)"/>
<circle cx="588.9" cy="379.1" r="12.5" fill="url(#sGd)"/>
<circle cx="608.9" cy="378.2" r="12.5" fill="url(#sGd)"/>
<circle cx="629.6" cy="379.4" r="12.5" fill="url(#sGd)"/>
<circle cx="652.2" cy="378.8" r="12.5" fill="url(#sGd)"/>
<circle cx="671.8" cy="378.2" r="12.5" fill="url(#sGd)"/>
<circle cx="692.7" cy="377.9" r="12.5" fill="url(#sGd)"/>
<circle cx="716.9" cy="377.4" r="12.5" fill="url(#sGd)"/>
<circle cx="737.2" cy="379.0" r="12.5" fill="url(#sGd)"/>
<circle cx="757.1" cy="378.6" r="12.5" fill="url(#sGd)"/>
<circle cx="779.6" cy="377.2" r="12.5" fill="url(#sGd)"/>
<circle cx="579.1" cy="394.2" r="12.5" fill="url(#sGd)"/>
<circle cx="599.0" cy="394.4" r="12.5" fill="url(#sGd)"/>
<circle cx="621.3" cy="395.1" r="12.5" fill="url(#sGd)"/>
<circle cx="639.8" cy="396.8" r="12.5" fill="url(#sGd)"/>
<circle cx="661.3" cy="395.9" r="12.5" fill="url(#sGd)"/>
<circle cx="685.0" cy="394.1" r="12.5" fill="url(#sGd)"/>
<circle cx="706.0" cy="396.8" r="12.5" fill="url(#sGd)"/>
<circle cx="726.9" cy="397.5" r="12.5" fill="url(#sGd)"/>
<circle cx="747.9" cy="397.1" r="12.5" fill="url(#sGd)"/>
<circle cx="767.5" cy="394.4" r="12.5" fill="url(#sGd)"/>
<circle cx="629.8" cy="415.0" r="12.5" fill="url(#sGd)"/>
<circle cx="650.7" cy="413.3" r="12.5" fill="url(#sGd)"/>
<circle cx="671.9" cy="415.2" r="12.5" fill="url(#sGd)"/>
<circle cx="693.9" cy="412.6" r="12.5" fill="url(#sGd)"/>
<circle cx="714.2" cy="413.9" r="12.5" fill="url(#sGd)"/>
<circle cx="738.7" cy="413.9" r="12.5" fill="url(#sGd)"/>
<circle cx="757.8" cy="413.6" r="12.5" fill="url(#sGd)"/>
<circle cx="664.5" cy="431.5" r="12.5" fill="url(#sGd)"/>
<circle cx="665.1" cy="126.4" r="12.5" fill="url(#sG)"/>
<circle cx="678.3" cy="126.5" r="12.5" fill="url(#sG)"/>
<circle cx="691.4" cy="128.5" r="12.5" fill="url(#sG)"/>
<circle cx="704.4" cy="130.4" r="12.5" fill="url(#sG)"/>
<circle cx="717.4" cy="137.2" r="12.5" fill="url(#sG)"/>
<circle cx="730.3" cy="144.0" r="12.5" fill="url(#sG)"/>
<circle cx="737.2" cy="155.2" r="12.5" fill="url(#sG)"/>
<circle cx="741.6" cy="163.9" r="12.5" fill="url(#sG)"/>
<circle cx="751.8" cy="178.6" r="12.5" fill="url(#sG)"/>
<circle cx="759.6" cy="190.7" r="12.5" fill="url(#sG)"/>
<circle cx="763.7" cy="204.0" r="12.5" fill="url(#sG)"/>
<circle cx="780.6" cy="206.8" r="12.5" fill="url(#sG)"/>
<circle cx="787.5" cy="216.1" r="12.5" fill="url(#sG)"/>
<circle cx="789.5" cy="228.0" r="12.5" fill="url(#sG)"/>
<circle cx="788.8" cy="243.3" r="12.5" fill="url(#sG)"/>
<circle cx="793.4" cy="254.8" r="12.5" fill="url(#sG)"/>
<circle cx="803.1" cy="266.1" r="12.5" fill="url(#sG)"/>
<circle cx="822.1" cy="277.5" r="12.5" fill="url(#sG)"/>
<circle cx="822.8" cy="283.4" r="12.5" fill="url(#sG)"/>
<circle cx="824.1" cy="305.0" r="12.5" fill="url(#sG)"/>
<circle cx="824.3" cy="320.7" r="12.5" fill="url(#sG)"/>
<circle cx="811.5" cy="330.2" r="12.5" fill="url(#sG)"/>
<circle cx="803.1" cy="348.1" r="12.5" fill="url(#sG)"/>
<circle cx="806.4" cy="367.8" r="12.5" fill="url(#sG)"/>
<circle cx="804.3" cy="377.7" r="12.5" fill="url(#sG)"/>
<circle cx="791.9" cy="387.2" r="12.5" fill="url(#sG)"/>
<circle cx="782.2" cy="395.5" r="12.5" fill="url(#sG)"/>
<circle cx="772.7" cy="405.3" r="12.5" fill="url(#sG)"/>
<circle cx="768.1" cy="415.3" r="12.5" fill="url(#sG)"/>
<circle cx="753.5" cy="422.5" r="12.5" fill="url(#sG)"/>
<circle cx="740.1" cy="424.0" r="12.5" fill="url(#sG)"/>
<circle cx="726.8" cy="425.7" r="12.5" fill="url(#sG)"/>
<circle cx="706.2" cy="430.6" r="12.5" fill="url(#sG)"/>
<circle cx="685.7" cy="437.0" r="12.5" fill="url(#sG)"/>
<circle cx="680.6" cy="438.3" r="12.5" fill="url(#sG)"/>
<circle cx="657.3" cy="437.2" r="12.5" fill="url(#sG)"/>
<circle cx="639.1" cy="434.9" r="12.5" fill="url(#sG)"/>
<circle cx="623.3" cy="429.0" r="12.5" fill="url(#sG)"/>
<circle cx="611.4" cy="415.2" r="12.5" fill="url(#sG)"/>
<circle cx="589.2" cy="409.7" r="12.5" fill="url(#sG)"/>
<circle cx="575.9" cy="396.3" r="12.5" fill="url(#sG)"/>
<circle cx="566.8" cy="386.0" r="12.5" fill="url(#sG)"/>
<circle cx="557.5" cy="375.7" r="12.5" fill="url(#sG)"/>
<circle cx="554.3" cy="358.5" r="12.5" fill="url(#sG)"/>
<circle cx="536.5" cy="346.6" r="12.5" fill="url(#sG)"/>
<circle cx="526.3" cy="332.2" r="12.5" fill="url(#sG)"/>
<circle cx="528.5" cy="318.7" r="12.5" fill="url(#sG)"/>
<circle cx="530.6" cy="305.2" r="12.5" fill="url(#sG)"/>
<circle cx="534.5" cy="283.3" r="12.5" fill="url(#sG)"/>
<circle cx="534.2" cy="280.9" r="12.5" fill="url(#sG)"/>
<circle cx="534.7" cy="267.3" r="12.5" fill="url(#sG)"/>
<circle cx="535.2" cy="253.7" r="12.5" fill="url(#sG)"/>
<circle cx="546.2" cy="237.2" r="12.5" fill="url(#sG)"/>
<circle cx="555.7" cy="218.5" r="12.5" fill="url(#sG)"/>
<circle cx="550.2" cy="206.2" r="12.5" fill="url(#sG)"/>
<circle cx="552.2" cy="189.3" r="12.5" fill="url(#sG)"/>
<circle cx="567.4" cy="183.1" r="12.5" fill="url(#sG)"/>
<circle cx="582.5" cy="176.9" r="12.5" fill="url(#sG)"/>
<circle cx="601.7" cy="169.0" r="12.5" fill="url(#sG)"/>
<circle cx="609.7" cy="156.2" r="12.5" fill="url(#sG)"/>
<circle cx="617.8" cy="143.2" r="12.5" fill="url(#sG)"/>
<circle cx="641.4" cy="133.7" r="12.5" fill="url(#sG)"/>
<circle cx="527.7" cy="321.6" r="12.5" fill="url(#sY)"/>
<circle cx="534.3" cy="276.2" r="12.5" fill="url(#sP)"/>
<circle cx="533.7" cy="286.6" r="12.5" fill="url(#sP)"/>
<circle cx="588.4" cy="174.0" r="12.5" fill="url(#sY)"/>
<circle cx="629.6" cy="432.6" r="12.5" fill="url(#sY)"/>
<circle cx="558.6" cy="228.9" r="12.5" fill="url(#sP)"/>
<circle cx="666.6" cy="427.4" r="12.5" fill="url(#sY)"/>
<circle cx="740.8" cy="418.2" r="12.5" fill="url(#sY)"/>
<circle cx="793.4" cy="372.1" r="12.5" fill="url(#sP)"/>
<circle cx="636.3" cy="410.3" r="12.5" fill="url(#sP)"/>
<circle cx="728.7" cy="173.9" r="12.5" fill="url(#sP)"/>
<circle cx="682.7" cy="173.9" r="12.5" fill="url(#sY)"/>
<circle cx="730.3" cy="391.8" r="12.5" fill="url(#sP)"/>
<circle cx="614.8" cy="212.3" r="12.5" fill="url(#sP)"/>
<circle cx="667.9" cy="395.8" r="12.5" fill="url(#sY)"/>
<circle cx="604.7" cy="356.3" r="12.5" fill="url(#sY)"/>
<circle cx="662.1" cy="189.2" r="12.5" fill="url(#sP)"/>
<circle cx="777.6" cy="339.2" r="12.5" fill="url(#sY)"/>
<circle cx="713.3" cy="193.1" r="12.5" fill="url(#sP)"/>
<circle cx="645.5" cy="199.5" r="12.5" fill="url(#sP)"/>
<circle cx="737.6" cy="203.3" r="12.5" fill="url(#sY)"/>
<circle cx="761.8" cy="357.6" r="12.5" fill="url(#sP)"/>
<circle cx="773.4" cy="250.6" r="12.5" fill="url(#sY)"/>
<circle cx="632.7" cy="218.6" r="12.5" fill="url(#sP)"/>
<circle cx="614.8" cy="245.5" r="12.5" fill="url(#sP)"/>
<circle cx="769.7" cy="311.6" r="12.5" fill="url(#sY)"/>
<circle cx="677.6" cy="212.3" r="12.5" fill="url(#sP)"/>
<circle cx="736.8" cy="343.2" r="12.5" fill="url(#sP)"/>
<circle cx="665.9" cy="225.0" r="12.5" fill="url(#sP)"/>
<circle cx="707.9" cy="357.6" r="12.5" fill="url(#sY)"/>
<circle cx="641.6" cy="341.8" r="12.5" fill="url(#sY)"/>
<circle cx="753.9" cy="282.6" r="12.5" fill="url(#sY)"/>
<circle cx="625.0" cy="278.7" r="12.5" fill="url(#sY)"/>
<circle cx="734.2" cy="297.1" r="12.5" fill="url(#sY)"/>
<circle cx="677.6" cy="249.3" r="12.5" fill="url(#sY)"/>
<circle cx="688.2" cy="326.1" r="12.5" fill="url(#sY)"/>
<circle cx="671.9" cy="126.8" r="12.5" fill="url(#sG)"/>
<circle cx="650.5" cy="133.1" r="12.5" fill="url(#sG)"/>
<circle cx="535.2" cy="309.6" r="12.5" fill="url(#sG)"/>
<circle cx="563.5" cy="381.0" r="12.5" fill="url(#sG)"/>
<circle cx="535.1" cy="282.4" r="12.5" fill="url(#sG)"/>
<circle cx="688.6" cy="138.5" r="12.5" fill="url(#sG)"/>
<circle cx="596.3" cy="170.2" r="12.5" fill="url(#sG)"/>
<circle cx="553.0" cy="224.3" r="12.5" fill="url(#sG)"/>
<circle cx="642.2" cy="433.1" r="12.5" fill="url(#sG)"/>
<circle cx="616.1" cy="161.4" r="12.5" fill="url(#sG)"/>
<circle cx="752.7" cy="422.8" r="12.5" fill="url(#sG)"/>
<circle cx="549.5" cy="334.3" r="12.5" fill="url(#sG)"/>
<circle cx="557.3" cy="352.2" r="12.5" fill="url(#sG)"/>
<circle cx="664.9" cy="433.0" r="12.5" fill="url(#sG)"/>
<circle cx="735.3" cy="156.8" r="12.5" fill="url(#sG)"/>
<circle cx="708.5" cy="150.4" r="12.5" fill="url(#sG)"/>
<circle cx="628.7" cy="417.9" r="12.5" fill="url(#sG)"/>
<circle cx="799.3" cy="375.5" r="12.5" fill="url(#sG)"/>
<circle cx="669.0" cy="153.9" r="12.5" fill="url(#sG)"/>
<circle cx="556.9" cy="251.5" r="12.5" fill="url(#sG)"/>
<circle cx="823.0" cy="311.7" r="12.5" fill="url(#sG)"/>
<circle cx="778.4" cy="389.5" r="12.5" fill="url(#sG)"/>
<circle cx="699.8" cy="423.8" r="12.5" fill="url(#sG)"/>
<circle cx="757.4" cy="401.8" r="12.5" fill="url(#sG)"/>
<circle cx="721.6" cy="417.3" r="12.5" fill="url(#sG)"/>
<circle cx="572.3" cy="232.5" r="12.5" fill="url(#sG)"/>
<circle cx="560.3" cy="281.6" r="12.5" fill="url(#sG)"/>
<circle cx="743.5" cy="177.3" r="12.5" fill="url(#sG)"/>
<circle cx="653.7" cy="411.4" r="12.5" fill="url(#sG)"/>
<circle cx="579.4" cy="347.0" r="12.5" fill="url(#sG)"/>
<circle cx="759.7" cy="193.3" r="12.5" fill="url(#sG)"/>
<circle cx="681.9" cy="411.9" r="12.5" fill="url(#sG)"/>
<circle cx="639.8" cy="181.6" r="12.5" fill="url(#sG)"/>
<circle cx="804.0" cy="318.2" r="12.5" fill="url(#sG)"/>
<circle cx="787.5" cy="227.1" r="12.5" fill="url(#sG)"/>
<circle cx="805.5" cy="298.0" r="12.5" fill="url(#sG)"/>
<circle cx="617.0" cy="385.0" r="12.5" fill="url(#sG)"/>
<circle cx="732.6" cy="398.4" r="12.5" fill="url(#sG)"/>
<circle cx="724.5" cy="181.8" r="12.5" fill="url(#sG)"/>
<circle cx="695.4" cy="177.8" r="12.5" fill="url(#sG)"/>
<circle cx="670.8" cy="179.3" r="12.5" fill="url(#sG)"/>
<circle cx="766.9" cy="214.4" r="12.5" fill="url(#sG)"/>
<circle cx="792.2" cy="258.1" r="12.5" fill="url(#sG)"/>
<circle cx="713.3" cy="394.6" r="12.5" fill="url(#sG)"/>
<circle cx="610.8" cy="363.9" r="12.5" fill="url(#sG)"/>
<circle cx="629.5" cy="203.6" r="12.5" fill="url(#sG)"/>
<circle cx="663.2" cy="393.8" r="12.5" fill="url(#sG)"/>
<circle cx="642.6" cy="386.4" r="12.5" fill="url(#sG)"/>
<circle cx="596.9" cy="239.1" r="12.5" fill="url(#sG)"/>
<circle cx="742.0" cy="203.1" r="12.5" fill="url(#sG)"/>
<circle cx="784.3" cy="328.2" r="12.5" fill="url(#sG)"/>
<circle cx="588.5" cy="316.4" r="12.5" fill="url(#sG)"/>
<circle cx="603.4" cy="344.9" r="12.5" fill="url(#sG)"/>
<circle cx="786.9" cy="282.8" r="12.5" fill="url(#sG)"/>
<circle cx="588.9" cy="284.0" r="12.5" fill="url(#sG)"/>
<circle cx="772.8" cy="246.1" r="12.5" fill="url(#sG)"/>
<circle cx="663.5" cy="199.6" r="12.5" fill="url(#sG)"/>
<circle cx="683.3" cy="196.7" r="12.5" fill="url(#sG)"/>
<circle cx="615.5" cy="231.6" r="12.5" fill="url(#sG)"/>
<circle cx="702.9" cy="198.7" r="12.5" fill="url(#sG)"/>
<circle cx="763.5" cy="346.6" r="12.5" fill="url(#sG)"/>
<circle cx="631.0" cy="365.0" r="12.5" fill="url(#sG)"/>
<circle cx="600.2" cy="266.6" r="12.5" fill="url(#sG)"/>
<circle cx="692.3" cy="380.1" r="12.5" fill="url(#sG)"/>
<circle cx="750.2" cy="233.1" r="12.5" fill="url(#sG)"/>
<circle cx="606.7" cy="303.6" r="12.5" fill="url(#sG)"/>
<circle cx="761.6" cy="319.2" r="12.5" fill="url(#sG)"/>
<circle cx="660.3" cy="364.3" r="12.5" fill="url(#sG)"/>
<circle cx="706.8" cy="366.9" r="12.5" fill="url(#sG)"/>
<circle cx="662.7" cy="219.3" r="12.5" fill="url(#sG)"/>
<circle cx="724.1" cy="224.2" r="12.5" fill="url(#sG)"/>
<circle cx="631.4" cy="340.7" r="12.5" fill="url(#sG)"/>
<circle cx="705.0" cy="218.5" r="12.5" fill="url(#sG)"/>
<circle cx="620.2" cy="318.5" r="12.5" fill="url(#sG)"/>
<circle cx="645.4" cy="232.3" r="12.5" fill="url(#sG)"/>
<circle cx="739.8" cy="335.8" r="12.5" fill="url(#sG)"/>
<circle cx="733.5" cy="245.7" r="12.5" fill="url(#sG)"/>
<circle cx="687.5" cy="355.8" r="12.5" fill="url(#sG)"/>
<circle cx="686.8" cy="226.9" r="12.5" fill="url(#sG)"/>
<circle cx="714.6" cy="347.4" r="12.5" fill="url(#sG)"/>
<circle cx="650.7" cy="338.6" r="12.5" fill="url(#sG)"/>
<circle cx="745.5" cy="306.5" r="12.5" fill="url(#sG)"/>
<circle cx="671.6" cy="343.4" r="12.5" fill="url(#sG)"/>
<circle cx="671.9" cy="239.7" r="12.5" fill="url(#sG)"/>
<circle cx="734.5" cy="266.4" r="12.5" fill="url(#sG)"/>
<circle cx="648.0" cy="260.7" r="12.5" fill="url(#sG)"/>
<circle cx="698.2" cy="242.8" r="12.5" fill="url(#sG)"/>
<circle cx="646.9" cy="316.5" r="12.5" fill="url(#sG)"/>
<circle cx="732.7" cy="285.7" r="12.5" fill="url(#sG)"/>
<circle cx="647.0" cy="289.5" r="12.5" fill="url(#sG)"/>
<circle cx="711.2" cy="324.6" r="12.5" fill="url(#sG)"/>
<circle cx="690.9" cy="328.8" r="12.5" fill="url(#sG)"/>
<circle cx="672.7" cy="320.5" r="12.5" fill="url(#sG)"/>
<circle cx="711.1" cy="270.4" r="12.5" fill="url(#sG)"/>
<circle cx="715.5" cy="302.3" r="12.5" fill="url(#sG)"/>
<circle cx="664.9" cy="276.0" r="12.5" fill="url(#sG)"/>
<circle cx="666.7" cy="298.9" r="12.5" fill="url(#sG)"/>
<circle cx="691.2" cy="304.1" r="12.5" fill="url(#sG)"/>
<circle cx="693.6" cy="281.6" r="12.5" fill="url(#sG)"/>
<circle cx="556.9" cy="187.9" r="12.5" fill="url(#sY)"/>
<circle cx="526.9" cy="333.3" r="12.5" fill="url(#sY)"/>
<circle cx="552.5" cy="201.0" r="12.5" fill="url(#sY)"/>
<circle cx="534.2" cy="255.0" r="12.5" fill="url(#sY)"/>
<circle cx="575.2" cy="182.9" r="12.5" fill="url(#sP)"/>
<circle cx="631.4" cy="147.1" r="12.5" fill="url(#sP)"/>
<circle cx="595.5" cy="403.7" r="12.5" fill="url(#sY)"/>
<circle cx="589.2" cy="194.4" r="12.5" fill="url(#sY)"/>
<circle cx="637.8" cy="162.4" r="12.5" fill="url(#sP)"/>
<circle cx="823.8" cy="284.1" r="12.5" fill="url(#sY)"/>
<circle cx="613.9" cy="405.0" r="12.5" fill="url(#sY)"/>
<circle cx="650.6" cy="161.1" r="12.5" fill="url(#sP)"/>
<circle cx="583.7" cy="372.1" r="12.5" fill="url(#sY)"/>
<circle cx="617.4" cy="181.6" r="12.5" fill="url(#sP)"/>
<circle cx="584.1" cy="213.5" r="12.5" fill="url(#sY)"/>
<circle cx="801.3" cy="353.7" r="12.5" fill="url(#sY)"/>
<circle cx="808.1" cy="339.1" r="12.5" fill="url(#sY)"/>
<circle cx="560.0" cy="307.6" r="12.5" fill="url(#sP)"/>
<circle cx="815.3" cy="277.1" r="12.5" fill="url(#sY)"/>
<circle cx="605.9" cy="193.1" r="12.5" fill="url(#sY)"/>
<circle cx="567.9" cy="324.7" r="12.5" fill="url(#sY)"/>
<circle cx="598.2" cy="216.1" r="12.5" fill="url(#sY)"/>
<circle cx="580.3" cy="251.9" r="12.5" fill="url(#sY)"/>
<circle cx="780.3" cy="358.9" r="12.5" fill="url(#sP)"/>
<circle cx="574.5" cy="298.4" r="12.5" fill="url(#sY)"/>
<circle cx="767.1" cy="366.8" r="12.5" fill="url(#sY)"/>
<circle cx="744.7" cy="374.7" r="12.5" fill="url(#sY)"/>
<circle cx="786.8" cy="305.0" r="12.5" fill="url(#sY)"/>
<circle cx="727.6" cy="377.4" r="12.5" fill="url(#sY)"/>
<circle cx="777.6" cy="298.4" r="12.5" fill="url(#sP)"/>
<circle cx="772.1" cy="267.2" r="12.5" fill="url(#sY)"/>
<circle cx="742.1" cy="358.9" r="12.5" fill="url(#sP)"/>
<circle cx="764.5" cy="297.1" r="12.5" fill="url(#sY)"/>
<circle cx="618.6" cy="259.5" r="12.5" fill="url(#sP)"/>
<circle cx="756.8" cy="259.5" r="12.5" fill="url(#sY)"/>
<circle cx="754.2" cy="274.9" r="12.5" fill="url(#sY)"/>
<circle cx="624.5" cy="290.5" r="12.5" fill="url(#sY)"/>
<circle cx="671.1" cy="254.4" r="12.5" fill="url(#sY)"/>
<circle cx="685.2" cy="258.3" r="12.5" fill="url(#sY)"/>
<circle cx="677.4" cy="260.8" r="12.5" fill="url(#sY)"/>
<polygon points="1083.4,181.9 1098.1,175.7 1111.4,178.4 1120.2,186.2 1135.1,191.6 1141.3,203.9 1148.4,210.0 1159.8,214.4 1166.8,224.9 1172.0,235.6 1173.8,244.3 1182.7,249.6 1183.5,261.0 1185.3,274.3 1189.7,285.7 1189.7,291.7 1182.7,302.3 1183.5,312.9 1179.1,321.7 1182.7,331.3 1177.3,342.8 1168.5,349.8 1159.8,354.2 1151.0,362.1 1140.4,362.1 1138.6,373.5 1131.6,379.7 1121.1,378.8 1114.0,384.1 1109.7,392.9 1098.1,394.7 1085.1,393.8 1078.2,394.7 1065.8,390.3 1055.3,383.3 1045.6,376.1 1028.8,377.9 1020.1,369.1 1014.8,358.6 1001.7,362.1 992.8,351.6 994.6,338.3 986.6,330.4 987.5,318.1 983.1,310.3 980.5,298.7 984.0,283.0 985.8,272.5 984.0,260.1 990.1,253.1 999.0,247.9 998.1,239.1 1000.8,228.5 1010.4,225.8 1013.1,217.9 1016.6,208.3 1027.1,202.1 1037.7,197.8 1047.4,189.8 1060.5,185.4" fill="#243024"/>
<circle cx="1099.1" cy="186.3" r="12.7" fill="url(#sGd)"/>
<circle cx="1043.3" cy="207.6" r="12.7" fill="url(#sGd)"/>
<circle cx="1065.1" cy="207.5" r="12.7" fill="url(#sGd)"/>
<circle cx="1086.3" cy="206.6" r="12.7" fill="url(#sGd)"/>
<circle cx="1110.7" cy="207.0" r="12.7" fill="url(#sGd)"/>
<circle cx="1130.8" cy="207.3" r="12.7" fill="url(#sCd)"/>
<circle cx="1035.4" cy="226.4" r="12.7" fill="url(#sPd)"/>
<circle cx="1054.3" cy="226.2" r="12.7" fill="url(#sPd)"/>
<circle cx="1075.3" cy="226.1" r="12.7" fill="url(#sPd)"/>
<circle cx="1098.4" cy="226.9" r="12.7" fill="url(#sPd)"/>
<circle cx="1120.9" cy="226.3" r="12.7" fill="url(#sGd)"/>
<circle cx="1139.8" cy="227.0" r="12.7" fill="url(#sGd)"/>
<circle cx="1023.0" cy="243.3" r="12.7" fill="url(#sPd)"/>
<circle cx="1043.7" cy="245.3" r="12.7" fill="url(#sPd)"/>
<circle cx="1066.7" cy="245.0" r="12.7" fill="url(#sPd)"/>
<circle cx="1086.9" cy="245.7" r="12.7" fill="url(#sYd)"/>
<circle cx="1107.8" cy="241.9" r="12.7" fill="url(#sGd)"/>
<circle cx="1130.9" cy="242.1" r="12.7" fill="url(#sCd)"/>
<circle cx="1153.7" cy="244.9" r="12.7" fill="url(#sGd)"/>
<circle cx="992.0" cy="261.3" r="12.7" fill="url(#sYd)"/>
<circle cx="1010.2" cy="263.7" r="12.7" fill="url(#sYd)"/>
<circle cx="1033.0" cy="263.5" r="12.7" fill="url(#sPd)"/>
<circle cx="1056.1" cy="263.3" r="12.7" fill="url(#sYd)"/>
<circle cx="1077.1" cy="260.8" r="12.7" fill="url(#sYd)"/>
<circle cx="1098.9" cy="263.4" r="12.7" fill="url(#sPd)"/>
<circle cx="1120.5" cy="262.4" r="12.7" fill="url(#sPd)"/>
<circle cx="1140.0" cy="263.9" r="12.7" fill="url(#sPd)"/>
<circle cx="1161.7" cy="262.4" r="12.7" fill="url(#sCd)"/>
<circle cx="1001.7" cy="279.4" r="12.7" fill="url(#sCd)"/>
<circle cx="1023.3" cy="281.7" r="12.7" fill="url(#sGd)"/>
<circle cx="1044.4" cy="282.1" r="12.7" fill="url(#sYd)"/>
<circle cx="1064.5" cy="282.4" r="12.7" fill="url(#sYd)"/>
<circle cx="1088.3" cy="281.7" r="12.7" fill="url(#sYd)"/>
<circle cx="1108.1" cy="282.6" r="12.7" fill="url(#sPd)"/>
<circle cx="1129.4" cy="281.4" r="12.7" fill="url(#sPd)"/>
<circle cx="1152.8" cy="280.4" r="12.7" fill="url(#sCd)"/>
<circle cx="1174.8" cy="279.5" r="12.7" fill="url(#sGd)"/>
<circle cx="990.9" cy="298.8" r="12.7" fill="url(#sYd)"/>
<circle cx="1013.7" cy="301.6" r="12.7" fill="url(#sPd)"/>
<circle cx="1035.3" cy="301.2" r="12.7" fill="url(#sYd)"/>
<circle cx="1056.0" cy="299.8" r="12.7" fill="url(#sYd)"/>
<circle cx="1076.6" cy="299.9" r="12.7" fill="url(#sGd)"/>
<circle cx="1099.4" cy="301.0" r="12.7" fill="url(#sGd)"/>
<circle cx="1120.5" cy="298.0" r="12.7" fill="url(#sPd)"/>
<circle cx="1140.4" cy="300.0" r="12.7" fill="url(#sPd)"/>
<circle cx="1162.1" cy="301.6" r="12.7" fill="url(#sGd)"/>
<circle cx="1001.6" cy="318.7" r="12.7" fill="url(#sPd)"/>
<circle cx="1024.3" cy="320.3" r="12.7" fill="url(#sPd)"/>
<circle cx="1042.7" cy="317.5" r="12.7" fill="url(#sPd)"/>
<circle cx="1067.2" cy="319.2" r="12.7" fill="url(#sPd)"/>
<circle cx="1086.8" cy="320.4" r="12.7" fill="url(#sCd)"/>
<circle cx="1108.7" cy="319.7" r="12.7" fill="url(#sGd)"/>
<circle cx="1129.5" cy="318.6" r="12.7" fill="url(#sPd)"/>
<circle cx="1150.5" cy="318.5" r="12.7" fill="url(#sYd)"/>
<circle cx="1012.0" cy="339.0" r="12.7" fill="url(#sPd)"/>
<circle cx="1035.1" cy="336.9" r="12.7" fill="url(#sPd)"/>
<circle cx="1056.3" cy="338.6" r="12.7" fill="url(#sPd)"/>
<circle cx="1075.8" cy="337.9" r="12.7" fill="url(#sGd)"/>
<circle cx="1098.8" cy="335.5" r="12.7" fill="url(#sPd)"/>
<circle cx="1118.3" cy="337.7" r="12.7" fill="url(#sPd)"/>
<circle cx="1143.4" cy="335.7" r="12.7" fill="url(#sPd)"/>
<circle cx="1162.3" cy="337.1" r="12.7" fill="url(#sGd)"/>
<circle cx="1024.2" cy="357.5" r="12.7" fill="url(#sPd)"/>
<circle cx="1045.8" cy="354.2" r="12.7" fill="url(#sPd)"/>
<circle cx="1067.5" cy="355.7" r="12.7" fill="url(#sPd)"/>
<circle cx="1086.4" cy="356.5" r="12.7" fill="url(#sCd)"/>
<circle cx="1111.0" cy="357.1" r="12.7" fill="url(#sPd)"/>
<circle cx="1130.9" cy="354.3" r="12.7" fill="url(#sYd)"/>
<circle cx="1076.6" cy="375.4" r="12.7" fill="url(#sPd)"/>
<circle cx="1098.3" cy="375.1" r="12.7" fill="url(#sCd)"/>
<circle cx="1083.4" cy="182.7" r="12.7" fill="url(#sG)"/>
<circle cx="1098.1" cy="175.7" r="12.7" fill="url(#sG)"/>
<circle cx="1111.4" cy="178.4" r="12.7" fill="url(#sP)"/>
<circle cx="1120.0" cy="186.8" r="12.7" fill="url(#sC)"/>
<circle cx="1134.9" cy="192.0" r="12.7" fill="url(#sC)"/>
<circle cx="1140.5" cy="205.1" r="12.7" fill="url(#sY)"/>
<circle cx="1147.4" cy="211.2" r="12.7" fill="url(#sY)"/>
<circle cx="1159.1" cy="215.2" r="12.7" fill="url(#sC)"/>
<circle cx="1165.8" cy="225.8" r="12.7" fill="url(#sP)"/>
<circle cx="1170.8" cy="236.4" r="12.7" fill="url(#sC)"/>
<circle cx="1172.2" cy="245.2" r="12.7" fill="url(#sG)"/>
<circle cx="1181.5" cy="250.1" r="12.7" fill="url(#sP)"/>
<circle cx="1182.0" cy="261.5" r="12.7" fill="url(#sG)"/>
<circle cx="1183.5" cy="274.6" r="12.7" fill="url(#sP)"/>
<circle cx="1188.3" cy="285.8" r="12.7" fill="url(#sP)"/>
<circle cx="1188.2" cy="291.7" r="12.7" fill="url(#sG)"/>
<circle cx="1180.5" cy="302.1" r="12.7" fill="url(#sG)"/>
<circle cx="1181.6" cy="312.5" r="12.7" fill="url(#sP)"/>
<circle cx="1177.2" cy="321.1" r="12.7" fill="url(#sG)"/>
<circle cx="1181.4" cy="330.8" r="12.7" fill="url(#sP)"/>
<circle cx="1176.2" cy="342.1" r="12.7" fill="url(#sP)"/>
<circle cx="1167.1" cy="348.8" r="12.7" fill="url(#sP)"/>
<circle cx="1158.1" cy="352.8" r="12.7" fill="url(#sC)"/>
<circle cx="1149.4" cy="360.4" r="12.7" fill="url(#sY)"/>
<circle cx="1138.5" cy="359.7" r="12.7" fill="url(#sY)"/>
<circle cx="1137.5" cy="371.7" r="12.7" fill="url(#sG)"/>
<circle cx="1130.7" cy="378.0" r="12.7" fill="url(#sG)"/>
<circle cx="1120.1" cy="376.5" r="12.7" fill="url(#sP)"/>
<circle cx="1113.3" cy="381.9" r="12.7" fill="url(#sY)"/>
<circle cx="1109.3" cy="391.5" r="12.7" fill="url(#sY)"/>
<circle cx="1098.0" cy="393.2" r="12.7" fill="url(#sY)"/>
<circle cx="1085.1" cy="392.1" r="12.7" fill="url(#sG)"/>
<circle cx="1078.3" cy="393.2" r="12.7" fill="url(#sG)"/>
<circle cx="1066.2" cy="388.5" r="12.7" fill="url(#sY)"/>
<circle cx="1056.0" cy="381.1" r="12.7" fill="url(#sG)"/>
<circle cx="1046.7" cy="373.8" r="12.7" fill="url(#sP)"/>
<circle cx="1029.7" cy="376.7" r="12.7" fill="url(#sY)"/>
<circle cx="1021.2" cy="367.8" r="12.7" fill="url(#sY)"/>
<circle cx="1016.4" cy="357.1" r="12.7" fill="url(#sY)"/>
<circle cx="1002.3" cy="361.6" r="12.7" fill="url(#sY)"/>
<circle cx="993.4" cy="351.2" r="12.7" fill="url(#sP)"/>
<circle cx="995.9" cy="337.6" r="12.7" fill="url(#sY)"/>
<circle cx="987.7" cy="330.0" r="12.7" fill="url(#sG)"/>
<circle cx="989.1" cy="317.7" r="12.7" fill="url(#sG)"/>
<circle cx="984.5" cy="310.0" r="12.7" fill="url(#sY)"/>
<circle cx="981.7" cy="298.7" r="12.7" fill="url(#sY)"/>
<circle cx="985.6" cy="283.1" r="12.7" fill="url(#sC)"/>
<circle cx="987.4" cy="272.8" r="12.7" fill="url(#sY)"/>
<circle cx="985.1" cy="260.5" r="12.7" fill="url(#sY)"/>
<circle cx="991.5" cy="253.7" r="12.7" fill="url(#sY)"/>
<circle cx="1000.9" cy="248.9" r="12.7" fill="url(#sC)"/>
<circle cx="999.4" cy="239.9" r="12.7" fill="url(#sC)"/>
<circle cx="1001.7" cy="229.2" r="12.7" fill="url(#sC)"/>
<circle cx="1011.7" cy="227.0" r="12.7" fill="url(#sC)"/>
<circle cx="1014.1" cy="218.9" r="12.7" fill="url(#sP)"/>
<circle cx="1017.2" cy="209.0" r="12.7" fill="url(#sP)"/>
<circle cx="1027.7" cy="202.9" r="12.7" fill="url(#sC)"/>
<circle cx="1038.2" cy="198.8" r="12.7" fill="url(#sY)"/>
<circle cx="1047.7" cy="190.6" r="12.7" fill="url(#sY)"/>
<circle cx="1060.7" cy="186.2" r="12.7" fill="url(#sG)"/>
<circle cx="1083.3" cy="181.5" r="12.7" fill="url(#sP)"/>
<circle cx="1082.1" cy="182.0" r="12.7" fill="url(#sP)"/>
<circle cx="1068.5" cy="183.9" r="12.7" fill="url(#sG)"/>
<circle cx="1015.9" cy="215.3" r="12.7" fill="url(#sC)"/>
<circle cx="984.0" cy="310.0" r="12.7" fill="url(#sC)"/>
<circle cx="1001.1" cy="243.8" r="12.7" fill="url(#sP)"/>
<circle cx="1037.2" cy="208.8" r="12.7" fill="url(#sP)"/>
<circle cx="994.2" cy="313.2" r="12.7" fill="url(#sY)"/>
<circle cx="1050.8" cy="377.6" r="12.7" fill="url(#sY)"/>
<circle cx="1174.8" cy="311.3" r="12.7" fill="url(#sG)"/>
<circle cx="1020.6" cy="352.3" r="12.7" fill="url(#sP)"/>
<circle cx="1031.3" cy="225.4" r="12.7" fill="url(#sC)"/>
<circle cx="1164.1" cy="266.4" r="12.7" fill="url(#sC)"/>
<circle cx="1043.1" cy="223.4" r="12.7" fill="url(#sG)"/>
<circle cx="1096.6" cy="215.6" r="12.7" fill="url(#sC)"/>
<circle cx="1157.2" cy="305.4" r="12.7" fill="url(#sP)"/>
<circle cx="1042.1" cy="348.4" r="12.7" fill="url(#sP)"/>
<circle cx="1073.4" cy="352.3" r="12.7" fill="url(#sP)"/>
<circle cx="1094.7" cy="352.3" r="12.7" fill="url(#sG)"/>
<circle cx="1080.0" cy="233.2" r="12.7" fill="url(#sP)"/>
<circle cx="1052.8" cy="252.7" r="12.7" fill="url(#sY)"/>
<circle cx="1050.9" cy="327.9" r="12.7" fill="url(#sG)"/>
<circle cx="1093.7" cy="247.8" r="12.7" fill="url(#sY)"/>
<circle cx="1123.0" cy="307.4" r="12.7" fill="url(#sP)"/>
<circle cx="1106.3" cy="176.5" r="12.7" fill="url(#sP)"/>
<circle cx="1096.3" cy="177.1" r="12.7" fill="url(#sG)"/>
<circle cx="1119.1" cy="185.3" r="12.7" fill="url(#sC)"/>
<circle cx="1128.0" cy="188.7" r="12.7" fill="url(#sG)"/>
<circle cx="995.5" cy="354.9" r="12.7" fill="url(#sP)"/>
<circle cx="1045.9" cy="191.9" r="12.7" fill="url(#sY)"/>
<circle cx="1023.3" cy="204.4" r="12.7" fill="url(#sC)"/>
<circle cx="1135.5" cy="196.5" r="12.7" fill="url(#sC)"/>
<circle cx="1069.5" cy="187.3" r="12.7" fill="url(#sG)"/>
<circle cx="985.3" cy="260.1" r="12.7" fill="url(#sY)"/>
<circle cx="981.1" cy="299.3" r="12.7" fill="url(#sY)"/>
<circle cx="1165.5" cy="223.7" r="12.7" fill="url(#sP)"/>
<circle cx="1155.8" cy="213.9" r="12.7" fill="url(#sC)"/>
<circle cx="988.1" cy="329.0" r="12.7" fill="url(#sG)"/>
<circle cx="1002.0" cy="230.9" r="12.7" fill="url(#sC)"/>
<circle cx="1188.8" cy="286.2" r="12.7" fill="url(#sP)"/>
<circle cx="1146.3" cy="208.6" r="12.7" fill="url(#sY)"/>
<circle cx="1179.7" cy="250.3" r="12.7" fill="url(#sP)"/>
<circle cx="1104.4" cy="191.2" r="12.7" fill="url(#sG)"/>
<circle cx="1016.7" cy="216.6" r="12.7" fill="url(#sP)"/>
<circle cx="1179.7" cy="332.7" r="12.7" fill="url(#sP)"/>
<circle cx="984.1" cy="286.4" r="12.7" fill="url(#sC)"/>
<circle cx="984.6" cy="282.9" r="12.7" fill="url(#sC)"/>
<circle cx="1182.6" cy="260.6" r="12.7" fill="url(#sG)"/>
<circle cx="1186.9" cy="280.7" r="12.7" fill="url(#sP)"/>
<circle cx="1082.0" cy="393.3" r="12.7" fill="url(#sG)"/>
<circle cx="985.4" cy="278.3" r="12.7" fill="url(#sY)"/>
<circle cx="1075.8" cy="392.8" r="12.7" fill="url(#sG)"/>
<circle cx="1023.6" cy="371.4" r="12.7" fill="url(#sY)"/>
<circle cx="1171.4" cy="238.2" r="12.7" fill="url(#sC)"/>
<circle cx="1170.7" cy="346.2" r="12.7" fill="url(#sP)"/>
<circle cx="1007.7" cy="354.1" r="12.7" fill="url(#sY)"/>
<circle cx="1185.5" cy="293.6" r="12.7" fill="url(#sG)"/>
<circle cx="987.4" cy="282.0" r="12.7" fill="url(#sY)"/>
<circle cx="1106.9" cy="388.5" r="12.7" fill="url(#sY)"/>
<circle cx="997.1" cy="334.7" r="12.7" fill="url(#sY)"/>
<circle cx="1181.7" cy="313.6" r="12.7" fill="url(#sP)"/>
<circle cx="1034.8" cy="374.4" r="12.7" fill="url(#sY)"/>
<circle cx="1175.8" cy="327.9" r="12.7" fill="url(#sG)"/>
<circle cx="992.3" cy="268.4" r="12.7" fill="url(#sY)"/>
<circle cx="1133.5" cy="375.8" r="12.7" fill="url(#sG)"/>
<circle cx="1060.4" cy="384.7" r="12.7" fill="url(#sG)"/>
<circle cx="1001.0" cy="246.9" r="12.7" fill="url(#sC)"/>
<circle cx="1066.5" cy="385.6" r="12.7" fill="url(#sY)"/>
<circle cx="1095.6" cy="386.5" r="12.7" fill="url(#sY)"/>
<circle cx="1168.0" cy="243.9" r="12.7" fill="url(#sG)"/>
<circle cx="1156.0" cy="356.2" r="12.7" fill="url(#sC)"/>
<circle cx="1144.5" cy="217.5" r="12.7" fill="url(#sG)"/>
<circle cx="1116.2" cy="202.9" r="12.7" fill="url(#sG)"/>
<circle cx="992.3" cy="295.6" r="12.7" fill="url(#sY)"/>
<circle cx="1046.4" cy="374.9" r="12.7" fill="url(#sP)"/>
<circle cx="1049.9" cy="207.8" r="12.7" fill="url(#sG)"/>
<circle cx="1158.2" cy="236.1" r="12.7" fill="url(#sG)"/>
<circle cx="1034.3" cy="365.0" r="12.7" fill="url(#sP)"/>
<circle cx="1160.1" cy="341.6" r="12.7" fill="url(#sG)"/>
<circle cx="1121.0" cy="373.8" r="12.7" fill="url(#sP)"/>
<circle cx="1077.3" cy="203.9" r="12.7" fill="url(#sG)"/>
<circle cx="1173.8" cy="282.1" r="12.7" fill="url(#sG)"/>
<circle cx="1142.5" cy="358.2" r="12.7" fill="url(#sY)"/>
<circle cx="1084.9" cy="204.8" r="12.7" fill="url(#sG)"/>
<circle cx="1082.9" cy="377.7" r="12.7" fill="url(#sP)"/>
<circle cx="1022.5" cy="235.1" r="12.7" fill="url(#sP)"/>
<circle cx="1169.9" cy="292.7" r="12.7" fill="url(#sG)"/>
<circle cx="1121.0" cy="217.5" r="12.7" fill="url(#sG)"/>
<circle cx="1009.8" cy="264.5" r="12.7" fill="url(#sY)"/>
<circle cx="1061.6" cy="368.9" r="12.7" fill="url(#sP)"/>
<circle cx="1009.8" cy="317.1" r="12.7" fill="url(#sP)"/>
<circle cx="1157.2" cy="257.6" r="12.7" fill="url(#sC)"/>
<circle cx="1022.5" cy="336.7" r="12.7" fill="url(#sP)"/>
<circle cx="1156.2" cy="323.0" r="12.7" fill="url(#sY)"/>
<circle cx="1141.6" cy="239.1" r="12.7" fill="url(#sC)"/>
<circle cx="1096.6" cy="368.0" r="12.7" fill="url(#sC)"/>
<circle cx="1012.8" cy="299.5" r="12.7" fill="url(#sP)"/>
<circle cx="1134.7" cy="346.5" r="12.7" fill="url(#sY)"/>
<circle cx="1014.7" cy="278.1" r="12.7" fill="url(#sC)"/>
<circle cx="1024.5" cy="253.7" r="12.7" fill="url(#sP)"/>
<circle cx="1014.7" cy="285.9" r="12.7" fill="url(#sC)"/>
<circle cx="1072.4" cy="223.4" r="12.7" fill="url(#sP)"/>
<circle cx="1046.0" cy="236.1" r="12.7" fill="url(#sP)"/>
<circle cx="1152.3" cy="276.2" r="12.7" fill="url(#sC)"/>
<circle cx="1152.3" cy="283.9" r="12.7" fill="url(#sC)"/>
<circle cx="1116.2" cy="235.1" r="12.7" fill="url(#sG)"/>
<circle cx="1093.7" cy="230.3" r="12.7" fill="url(#sP)"/>
<circle cx="1083.1" cy="230.3" r="12.7" fill="url(#sP)"/>
<circle cx="1056.8" cy="343.5" r="12.7" fill="url(#sP)"/>
<circle cx="1132.8" cy="327.9" r="12.7" fill="url(#sP)"/>
<circle cx="1111.3" cy="343.5" r="12.7" fill="url(#sP)"/>
<circle cx="1030.4" cy="279.1" r="12.7" fill="url(#sG)"/>
<circle cx="1141.6" cy="302.5" r="12.7" fill="url(#sP)"/>
<circle cx="1037.2" cy="263.5" r="12.7" fill="url(#sP)"/>
<circle cx="1065.6" cy="240.0" r="12.7" fill="url(#sP)"/>
<circle cx="1039.2" cy="320.1" r="12.7" fill="url(#sP)"/>
<circle cx="1034.3" cy="301.5" r="12.7" fill="url(#sY)"/>
<circle cx="1034.3" cy="283.9" r="12.7" fill="url(#sG)"/>
<circle cx="1115.2" cy="248.8" r="12.7" fill="url(#sG)"/>
<circle cx="1079.2" cy="341.6" r="12.7" fill="url(#sG)"/>
<circle cx="1126.9" cy="265.4" r="12.7" fill="url(#sP)"/>
<circle cx="1085.9" cy="340.6" r="12.7" fill="url(#sG)"/>
<circle cx="1046.0" cy="282.1" r="12.7" fill="url(#sY)"/>
<circle cx="1095.6" cy="330.8" r="12.7" fill="url(#sP)"/>
<circle cx="1083.9" cy="252.7" r="12.7" fill="url(#sY)"/>
<circle cx="1122.0" cy="282.1" r="12.7" fill="url(#sP)"/>
<circle cx="1057.7" cy="268.4" r="12.7" fill="url(#sY)"/>
<circle cx="1077.3" cy="256.6" r="12.7" fill="url(#sY)"/>
<circle cx="1122.0" cy="289.8" r="12.7" fill="url(#sP)"/>
<circle cx="1099.5" cy="259.6" r="12.7" fill="url(#sP)"/>
<circle cx="1053.8" cy="292.7" r="12.7" fill="url(#sY)"/>
<circle cx="1104.4" cy="318.1" r="12.7" fill="url(#sG)"/>
<circle cx="1068.5" cy="314.2" r="12.7" fill="url(#sP)"/>
<circle cx="1104.4" cy="278.1" r="12.7" fill="url(#sP)"/>
<circle cx="1085.9" cy="314.2" r="12.7" fill="url(#sC)"/>
<circle cx="1104.4" cy="283.9" r="12.7" fill="url(#sP)"/>
<circle cx="1077.3" cy="275.2" r="12.7" fill="url(#sY)"/>
<circle cx="1083.9" cy="274.2" r="12.7" fill="url(#sY)"/>
<circle cx="1075.3" cy="285.9" r="12.7" fill="url(#sY)"/>
<circle cx="1083.9" cy="282.0" r="12.7" fill="url(#sY)"/>
<circle cx="1081.2" cy="297.6" r="12.7" fill="url(#sG)"/>
<circle cx="1091.7" cy="295.6" r="12.7" fill="url(#sG)"/>
<polygon points="1496.5,154.5 1505.7,155.5 1519.3,160.8 1529.8,158.7 1547.7,167.0 1558.1,173.3 1564.4,177.6 1577.0,184.9 1581.2,192.2 1589.6,198.5 1600.1,204.8 1607.4,215.4 1608.5,227.9 1615.8,233.2 1618.9,242.6 1621.1,255.2 1625.2,265.7 1627.4,276.2 1628.4,289.8 1627.4,312.6 1615.8,327.2 1616.9,349.3 1606.3,357.6 1602.2,367.1 1593.8,372.3 1591.7,386.0 1574.9,392.3 1562.3,398.6 1554.0,408.0 1529.8,409.0 1526.7,417.5 1510.9,420.6 1499.7,422.7 1486.1,421.6 1469.3,419.6 1456.7,413.3 1444.1,407.0 1427.3,405.9 1423.1,396.4 1408.4,389.1 1403.2,379.7 1393.8,373.4 1388.5,361.9 1387.5,352.4 1381.2,344.1 1369.6,330.4 1370.7,320.9 1366.5,311.5 1364.4,287.4 1364.4,265.7 1370.7,251.0 1374.9,236.3 1379.1,225.8 1381.2,217.4 1391.7,209.1 1398.0,202.8 1401.1,194.4 1412.7,188.1 1421.0,177.6 1433.6,169.2 1442.0,160.8 1465.1,160.8" fill="#243024"/>
<circle cx="1476.3" cy="163.4" r="12.5" fill="url(#sGd)"/>
<circle cx="1500.0" cy="164.6" r="12.5" fill="url(#sGd)"/>
<circle cx="1519.8" cy="164.8" r="12.5" fill="url(#sGd)"/>
<circle cx="1423.0" cy="181.7" r="12.5" fill="url(#sCd)"/>
<circle cx="1446.7" cy="184.1" r="12.5" fill="url(#sGd)"/>
<circle cx="1467.3" cy="181.0" r="12.5" fill="url(#sGd)"/>
<circle cx="1489.6" cy="184.3" r="12.5" fill="url(#sGd)"/>
<circle cx="1510.3" cy="181.8" r="12.5" fill="url(#sCd)"/>
<circle cx="1528.5" cy="184.5" r="12.5" fill="url(#sGd)"/>
<circle cx="1552.2" cy="184.1" r="12.5" fill="url(#sGd)"/>
<circle cx="1411.8" cy="200.8" r="12.5" fill="url(#sPd)"/>
<circle cx="1434.5" cy="202.9" r="12.5" fill="url(#sPd)"/>
<circle cx="1455.9" cy="201.1" r="12.5" fill="url(#sPd)"/>
<circle cx="1476.4" cy="201.4" r="12.5" fill="url(#sPd)"/>
<circle cx="1498.3" cy="201.0" r="12.5" fill="url(#sPd)"/>
<circle cx="1521.4" cy="200.6" r="12.5" fill="url(#sGd)"/>
<circle cx="1542.3" cy="202.6" r="12.5" fill="url(#sGd)"/>
<circle cx="1562.3" cy="200.2" r="12.5" fill="url(#sGd)"/>
<circle cx="1585.3" cy="199.9" r="12.5" fill="url(#sCd)"/>
<circle cx="1401.9" cy="219.5" r="12.5" fill="url(#sPd)"/>
<circle cx="1423.5" cy="217.6" r="12.5" fill="url(#sPd)"/>
<circle cx="1444.4" cy="221.0" r="12.5" fill="url(#sPd)"/>
<circle cx="1465.5" cy="220.9" r="12.5" fill="url(#sPd)"/>
<circle cx="1486.6" cy="220.3" r="12.5" fill="url(#sPd)"/>
<circle cx="1509.6" cy="219.2" r="12.5" fill="url(#sPd)"/>
<circle cx="1531.9" cy="221.3" r="12.5" fill="url(#sPd)"/>
<circle cx="1549.8" cy="218.1" r="12.5" fill="url(#sGd)"/>
<circle cx="1571.4" cy="218.2" r="12.5" fill="url(#sGd)"/>
<circle cx="1594.8" cy="217.6" r="12.5" fill="url(#sGd)"/>
<circle cx="1390.5" cy="237.3" r="12.5" fill="url(#sPd)"/>
<circle cx="1412.2" cy="237.6" r="12.5" fill="url(#sPd)"/>
<circle cx="1435.4" cy="236.2" r="12.5" fill="url(#sPd)"/>
<circle cx="1457.0" cy="236.1" r="12.5" fill="url(#sPd)"/>
<circle cx="1476.6" cy="236.7" r="12.5" fill="url(#sPd)"/>
<circle cx="1498.7" cy="239.2" r="12.5" fill="url(#sPd)"/>
<circle cx="1518.2" cy="237.7" r="12.5" fill="url(#sPd)"/>
<circle cx="1541.1" cy="237.9" r="12.5" fill="url(#sPd)"/>
<circle cx="1562.7" cy="239.0" r="12.5" fill="url(#sCd)"/>
<circle cx="1581.9" cy="238.3" r="12.5" fill="url(#sCd)"/>
<circle cx="1605.7" cy="238.7" r="12.5" fill="url(#sGd)"/>
<circle cx="1383.0" cy="256.3" r="12.5" fill="url(#sYd)"/>
<circle cx="1403.2" cy="256.3" r="12.5" fill="url(#sYd)"/>
<circle cx="1422.9" cy="255.4" r="12.5" fill="url(#sPd)"/>
<circle cx="1447.0" cy="256.8" r="12.5" fill="url(#sYd)"/>
<circle cx="1467.5" cy="255.9" r="12.5" fill="url(#sYd)"/>
<circle cx="1489.5" cy="257.5" r="12.5" fill="url(#sYd)"/>
<circle cx="1509.3" cy="256.8" r="12.5" fill="url(#sPd)"/>
<circle cx="1528.5" cy="254.4" r="12.5" fill="url(#sPd)"/>
<circle cx="1552.0" cy="255.1" r="12.5" fill="url(#sPd)"/>
<circle cx="1574.7" cy="256.9" r="12.5" fill="url(#sCd)"/>
<circle cx="1595.0" cy="257.2" r="12.5" fill="url(#sCd)"/>
<circle cx="1614.5" cy="256.0" r="12.5" fill="url(#sGd)"/>
<circle cx="1369.7" cy="274.0" r="12.5" fill="url(#sYd)"/>
<circle cx="1393.1" cy="274.5" r="12.5" fill="url(#sYd)"/>
<circle cx="1414.9" cy="273.0" r="12.5" fill="url(#sGd)"/>
<circle cx="1434.0" cy="275.3" r="12.5" fill="url(#sPd)"/>
<circle cx="1455.2" cy="272.9" r="12.5" fill="url(#sYd)"/>
<circle cx="1476.4" cy="273.9" r="12.5" fill="url(#sYd)"/>
<circle cx="1498.5" cy="275.4" r="12.5" fill="url(#sPd)"/>
<circle cx="1518.5" cy="276.4" r="12.5" fill="url(#sPd)"/>
<circle cx="1542.1" cy="275.1" r="12.5" fill="url(#sPd)"/>
<circle cx="1561.6" cy="273.0" r="12.5" fill="url(#sPd)"/>
<circle cx="1582.7" cy="274.2" r="12.5" fill="url(#sCd)"/>
<circle cx="1604.7" cy="273.2" r="12.5" fill="url(#sCd)"/>
<circle cx="1381.9" cy="294.5" r="12.5" fill="url(#sYd)"/>
<circle cx="1403.2" cy="291.3" r="12.5" fill="url(#sCd)"/>
<circle cx="1422.8" cy="292.0" r="12.5" fill="url(#sCd)"/>
<circle cx="1443.8" cy="292.3" r="12.5" fill="url(#sYd)"/>
<circle cx="1465.4" cy="291.6" r="12.5" fill="url(#sYd)"/>
<circle cx="1486.4" cy="294.9" r="12.5" fill="url(#sGd)"/>
<circle cx="1508.4" cy="293.5" r="12.5" fill="url(#sGd)"/>
<circle cx="1529.0" cy="292.8" r="12.5" fill="url(#sGd)"/>
<circle cx="1553.1" cy="292.7" r="12.5" fill="url(#sPd)"/>
<circle cx="1574.3" cy="292.0" r="12.5" fill="url(#sPd)"/>
<circle cx="1593.2" cy="293.9" r="12.5" fill="url(#sCd)"/>
<circle cx="1615.0" cy="294.9" r="12.5" fill="url(#sGd)"/>
<circle cx="1369.4" cy="311.7" r="12.5" fill="url(#sYd)"/>
<circle cx="1392.7" cy="312.0" r="12.5" fill="url(#sYd)"/>
<circle cx="1412.3" cy="312.6" r="12.5" fill="url(#sCd)"/>
<circle cx="1434.4" cy="311.6" r="12.5" fill="url(#sYd)"/>
<circle cx="1455.6" cy="311.1" r="12.5" fill="url(#sYd)"/>
<circle cx="1476.4" cy="311.2" r="12.5" fill="url(#sPd)"/>
<circle cx="1499.9" cy="311.9" r="12.5" fill="url(#sCd)"/>
<circle cx="1520.4" cy="310.7" r="12.5" fill="url(#sGd)"/>
<circle cx="1542.5" cy="313.2" r="12.5" fill="url(#sPd)"/>
<circle cx="1562.4" cy="310.9" r="12.5" fill="url(#sPd)"/>
<circle cx="1582.9" cy="310.5" r="12.5" fill="url(#sYd)"/>
<circle cx="1603.1" cy="312.6" r="12.5" fill="url(#sGd)"/>
<circle cx="1624.9" cy="310.3" r="12.5" fill="url(#sPd)"/>
<circle cx="1382.2" cy="329.0" r="12.5" fill="url(#sYd)"/>
<circle cx="1403.8" cy="329.4" r="12.5" fill="url(#sPd)"/>
<circle cx="1423.7" cy="329.0" r="12.5" fill="url(#sPd)"/>
<circle cx="1443.6" cy="330.6" r="12.5" fill="url(#sPd)"/>
<circle cx="1465.6" cy="330.6" r="12.5" fill="url(#sPd)"/>
<circle cx="1486.6" cy="331.1" r="12.5" fill="url(#sGd)"/>
<circle cx="1507.5" cy="331.2" r="12.5" fill="url(#sCd)"/>
<circle cx="1530.4" cy="331.3" r="12.5" fill="url(#sGd)"/>
<circle cx="1550.7" cy="331.2" r="12.5" fill="url(#sPd)"/>
<circle cx="1573.1" cy="328.2" r="12.5" fill="url(#sPd)"/>
<circle cx="1592.3" cy="328.9" r="12.5" fill="url(#sGd)"/>
<circle cx="1393.5" cy="347.4" r="12.5" fill="url(#sPd)"/>
<circle cx="1413.0" cy="347.9" r="12.5" fill="url(#sPd)"/>
<circle cx="1434.7" cy="348.8" r="12.5" fill="url(#sPd)"/>
<circle cx="1457.4" cy="349.2" r="12.5" fill="url(#sPd)"/>
<circle cx="1477.1" cy="349.1" r="12.5" fill="url(#sPd)"/>
<circle cx="1497.4" cy="349.4" r="12.5" fill="url(#sGd)"/>
<circle cx="1520.8" cy="349.9" r="12.5" fill="url(#sPd)"/>
<circle cx="1540.3" cy="347.7" r="12.5" fill="url(#sPd)"/>
<circle cx="1564.0" cy="348.0" r="12.5" fill="url(#sPd)"/>
<circle cx="1585.0" cy="347.4" r="12.5" fill="url(#sPd)"/>
<circle cx="1606.0" cy="347.6" r="12.5" fill="url(#sGd)"/>
<circle cx="1402.8" cy="367.8" r="12.5" fill="url(#sPd)"/>
<circle cx="1422.3" cy="366.1" r="12.5" fill="url(#sPd)"/>
<circle cx="1444.9" cy="366.2" r="12.5" fill="url(#sPd)"/>
<circle cx="1467.6" cy="365.9" r="12.5" fill="url(#sPd)"/>
<circle cx="1488.2" cy="366.2" r="12.5" fill="url(#sGd)"/>
<circle cx="1508.5" cy="364.9" r="12.5" fill="url(#sPd)"/>
<circle cx="1532.1" cy="365.6" r="12.5" fill="url(#sPd)"/>
<circle cx="1553.0" cy="367.8" r="12.5" fill="url(#sYd)"/>
<circle cx="1571.9" cy="367.7" r="12.5" fill="url(#sYd)"/>
<circle cx="1593.0" cy="368.0" r="12.5" fill="url(#sYd)"/>
<circle cx="1413.9" cy="386.5" r="12.5" fill="url(#sYd)"/>
<circle cx="1435.4" cy="385.8" r="12.5" fill="url(#sPd)"/>
<circle cx="1457.8" cy="384.0" r="12.5" fill="url(#sPd)"/>
<circle cx="1475.6" cy="383.7" r="12.5" fill="url(#sPd)"/>
<circle cx="1497.5" cy="385.0" r="12.5" fill="url(#sCd)"/>
<circle cx="1520.5" cy="386.4" r="12.5" fill="url(#sPd)"/>
<circle cx="1540.1" cy="385.7" r="12.5" fill="url(#sPd)"/>
<circle cx="1563.4" cy="386.2" r="12.5" fill="url(#sPd)"/>
<circle cx="1582.5" cy="384.0" r="12.5" fill="url(#sCd)"/>
<circle cx="1444.0" cy="401.6" r="12.5" fill="url(#sYd)"/>
<circle cx="1466.9" cy="403.0" r="12.5" fill="url(#sYd)"/>
<circle cx="1488.8" cy="404.5" r="12.5" fill="url(#sYd)"/>
<circle cx="1509.0" cy="403.5" r="12.5" fill="url(#sCd)"/>
<circle cx="1529.8" cy="404.5" r="12.5" fill="url(#sYd)"/>
<circle cx="1549.7" cy="405.2" r="12.5" fill="url(#sGd)"/>
<circle cx="1496.5" cy="152.4" r="12.5" fill="url(#sG)"/>
<circle cx="1505.9" cy="153.5" r="12.5" fill="url(#sG)"/>
<circle cx="1519.6" cy="159.3" r="12.5" fill="url(#sG)"/>
<circle cx="1530.4" cy="156.7" r="12.5" fill="url(#sC)"/>
<circle cx="1548.4" cy="165.4" r="12.5" fill="url(#sC)"/>
<circle cx="1558.9" cy="171.8" r="12.5" fill="url(#sC)"/>
<circle cx="1565.2" cy="176.2" r="12.5" fill="url(#sC)"/>
<circle cx="1578.1" cy="183.6" r="12.5" fill="url(#sY)"/>
<circle cx="1582.2" cy="191.2" r="12.5" fill="url(#sP)"/>
<circle cx="1590.7" cy="197.5" r="12.5" fill="url(#sC)"/>
<circle cx="1601.7" cy="203.6" r="12.5" fill="url(#sC)"/>
<circle cx="1609.0" cy="214.3" r="12.5" fill="url(#sP)"/>
<circle cx="1609.7" cy="227.2" r="12.5" fill="url(#sP)"/>
<circle cx="1617.4" cy="232.4" r="12.5" fill="url(#sP)"/>
<circle cx="1620.5" cy="242.0" r="12.5" fill="url(#sG)"/>
<circle cx="1622.6" cy="254.8" r="12.5" fill="url(#sG)"/>
<circle cx="1626.9" cy="265.4" r="12.5" fill="url(#sP)"/>
<circle cx="1629.2" cy="276.0" r="12.5" fill="url(#sP)"/>
<circle cx="1630.3" cy="289.8" r="12.5" fill="url(#sP)"/>
<circle cx="1629.4" cy="312.9" r="12.5" fill="url(#sP)"/>
<circle cx="1616.9" cy="327.6" r="12.5" fill="url(#sG)"/>
<circle cx="1618.9" cy="350.3" r="12.5" fill="url(#sP)"/>
<circle cx="1607.8" cy="358.5" r="12.5" fill="url(#sG)"/>
<circle cx="1603.7" cy="368.2" r="12.5" fill="url(#sG)"/>
<circle cx="1595.0" cy="373.3" r="12.5" fill="url(#sC)"/>
<circle cx="1593.3" cy="387.7" r="12.5" fill="url(#sC)"/>
<circle cx="1576.0" cy="393.7" r="12.5" fill="url(#sC)"/>
<circle cx="1563.1" cy="399.9" r="12.5" fill="url(#sP)"/>
<circle cx="1554.8" cy="409.9" r="12.5" fill="url(#sG)"/>
<circle cx="1530.2" cy="410.2" r="12.5" fill="url(#sP)"/>
<circle cx="1527.1" cy="419.5" r="12.5" fill="url(#sY)"/>
<circle cx="1511.2" cy="422.6" r="12.5" fill="url(#sY)"/>
<circle cx="1499.7" cy="425.0" r="12.5" fill="url(#sG)"/>
<circle cx="1485.9" cy="423.8" r="12.5" fill="url(#sG)"/>
<circle cx="1468.8" cy="421.7" r="12.5" fill="url(#sG)"/>
<circle cx="1456.1" cy="415.1" r="12.5" fill="url(#sY)"/>
<circle cx="1443.4" cy="408.5" r="12.5" fill="url(#sY)"/>
<circle cx="1426.1" cy="408.0" r="12.5" fill="url(#sY)"/>
<circle cx="1422.1" cy="398.0" r="12.5" fill="url(#sP)"/>
<circle cx="1407.0" cy="390.8" r="12.5" fill="url(#sY)"/>
<circle cx="1401.9" cy="381.0" r="12.5" fill="url(#sY)"/>
<circle cx="1392.1" cy="374.8" r="12.5" fill="url(#sY)"/>
<circle cx="1387.0" cy="362.9" r="12.5" fill="url(#sP)"/>
<circle cx="1386.3" cy="353.1" r="12.5" fill="url(#sY)"/>
<circle cx="1379.8" cy="344.7" r="12.5" fill="url(#sY)"/>
<circle cx="1367.6" cy="331.1" r="12.5" fill="url(#sG)"/>
<circle cx="1369.0" cy="321.4" r="12.5" fill="url(#sC)"/>
<circle cx="1364.5" cy="311.8" r="12.5" fill="url(#sC)"/>
<circle cx="1362.4" cy="287.3" r="12.5" fill="url(#sY)"/>
<circle cx="1362.3" cy="265.3" r="12.5" fill="url(#sY)"/>
<circle cx="1368.9" cy="250.5" r="12.5" fill="url(#sY)"/>
<circle cx="1373.0" cy="235.6" r="12.5" fill="url(#sC)"/>
<circle cx="1377.3" cy="224.8" r="12.5" fill="url(#sC)"/>
<circle cx="1379.2" cy="216.2" r="12.5" fill="url(#sC)"/>
<circle cx="1390.2" cy="207.9" r="12.5" fill="url(#sP)"/>
<circle cx="1396.7" cy="201.6" r="12.5" fill="url(#sC)"/>
<circle cx="1399.6" cy="192.9" r="12.5" fill="url(#sC)"/>
<circle cx="1411.5" cy="186.7" r="12.5" fill="url(#sP)"/>
<circle cx="1419.8" cy="175.8" r="12.5" fill="url(#sC)"/>
<circle cx="1432.6" cy="167.2" r="12.5" fill="url(#sY)"/>
<circle cx="1441.0" cy="158.4" r="12.5" fill="url(#sY)"/>
<circle cx="1464.7" cy="159.1" r="12.5" fill="url(#sG)"/>
<circle cx="1480.6" cy="155.9" r="12.5" fill="url(#sG)"/>
<circle cx="1401.3" cy="191.4" r="12.5" fill="url(#sC)"/>
<circle cx="1395.6" cy="377.4" r="12.5" fill="url(#sP)"/>
<circle cx="1546.0" cy="163.2" r="12.5" fill="url(#sC)"/>
<circle cx="1387.5" cy="364.6" r="12.5" fill="url(#sY)"/>
<circle cx="1449.9" cy="412.9" r="12.5" fill="url(#sY)"/>
<circle cx="1553.7" cy="167.4" r="12.5" fill="url(#sG)"/>
<circle cx="1562.0" cy="172.9" r="12.5" fill="url(#sC)"/>
<circle cx="1391.6" cy="366.6" r="12.5" fill="url(#sP)"/>
<circle cx="1497.3" cy="158.3" r="12.5" fill="url(#sG)"/>
<circle cx="1611.7" cy="228.2" r="12.5" fill="url(#sP)"/>
<circle cx="1434.7" cy="179.3" r="12.5" fill="url(#sP)"/>
<circle cx="1571.9" cy="387.6" r="12.5" fill="url(#sG)"/>
<circle cx="1581.2" cy="378.2" r="12.5" fill="url(#sG)"/>
<circle cx="1612.7" cy="252.7" r="12.5" fill="url(#sG)"/>
<circle cx="1417.3" cy="378.2" r="12.5" fill="url(#sY)"/>
<circle cx="1557.9" cy="380.6" r="12.5" fill="url(#sY)"/>
<circle cx="1403.3" cy="340.9" r="12.5" fill="url(#sY)"/>
<circle cx="1597.6" cy="265.5" r="12.5" fill="url(#sC)"/>
<circle cx="1398.6" cy="303.6" r="12.5" fill="url(#sP)"/>
<circle cx="1413.8" cy="311.8" r="12.5" fill="url(#sP)"/>
<circle cx="1570.8" cy="331.6" r="12.5" fill="url(#sY)"/>
<circle cx="1576.6" cy="304.8" r="12.5" fill="url(#sC)"/>
<circle cx="1537.0" cy="218.9" r="12.5" fill="url(#sG)"/>
<circle cx="1449.9" cy="227.1" r="12.5" fill="url(#sY)"/>
<circle cx="1431.2" cy="255.0" r="12.5" fill="url(#sP)"/>
<circle cx="1532.3" cy="350.3" r="12.5" fill="url(#sP)"/>
<circle cx="1509.0" cy="340.9" r="12.5" fill="url(#sG)"/>
<circle cx="1475.5" cy="239.9" r="12.5" fill="url(#sP)"/>
<circle cx="1496.2" cy="258.5" r="12.5" fill="url(#sY)"/>
<circle cx="1495.3" cy="308.3" r="12.5" fill="url(#sG)"/>
<circle cx="1502.0" cy="302.5" r="12.5" fill="url(#sG)"/>
<circle cx="1390.4" cy="372.9" r="12.5" fill="url(#sP)"/>
<circle cx="1437.8" cy="161.2" r="12.5" fill="url(#sY)"/>
<circle cx="1426.8" cy="406.6" r="12.5" fill="url(#sY)"/>
<circle cx="1469.4" cy="422.8" r="12.5" fill="url(#sG)"/>
<circle cx="1497.3" cy="425.5" r="12.5" fill="url(#sG)"/>
<circle cx="1378.0" cy="218.8" r="12.5" fill="url(#sC)"/>
<circle cx="1490.9" cy="425.2" r="12.5" fill="url(#sG)"/>
<circle cx="1420.7" cy="174.0" r="12.5" fill="url(#sC)"/>
<circle cx="1362.4" cy="263.8" r="12.5" fill="url(#sY)"/>
<circle cx="1517.4" cy="422.4" r="12.5" fill="url(#sY)"/>
<circle cx="1405.0" cy="388.1" r="12.5" fill="url(#sY)"/>
<circle cx="1592.3" cy="384.6" r="12.5" fill="url(#sC)"/>
<circle cx="1368.8" cy="333.0" r="12.5" fill="url(#sG)"/>
<circle cx="1532.3" cy="156.8" r="12.5" fill="url(#sC)"/>
<circle cx="1501.7" cy="152.3" r="12.5" fill="url(#sG)"/>
<circle cx="1496.5" cy="152.5" r="12.5" fill="url(#sG)"/>
<circle cx="1371.8" cy="236.4" r="12.5" fill="url(#sC)"/>
<circle cx="1361.7" cy="287.4" r="12.5" fill="url(#sY)"/>
<circle cx="1363.9" cy="312.1" r="12.5" fill="url(#sC)"/>
<circle cx="1615.0" cy="353.4" r="12.5" fill="url(#sP)"/>
<circle cx="1362.5" cy="279.5" r="12.5" fill="url(#sY)"/>
<circle cx="1631.4" cy="289.6" r="12.5" fill="url(#sP)"/>
<circle cx="1553.0" cy="410.0" r="12.5" fill="url(#sG)"/>
<circle cx="1608.2" cy="213.0" r="12.5" fill="url(#sP)"/>
<circle cx="1472.1" cy="156.5" r="12.5" fill="url(#sG)"/>
<circle cx="1630.4" cy="280.7" r="12.5" fill="url(#sP)"/>
<circle cx="1496.5" cy="421.4" r="12.5" fill="url(#sY)"/>
<circle cx="1598.8" cy="201.6" r="12.5" fill="url(#sC)"/>
<circle cx="1604.6" cy="366.6" r="12.5" fill="url(#sG)"/>
<circle cx="1400.9" cy="195.6" r="12.5" fill="url(#sC)"/>
<circle cx="1628.4" cy="267.2" r="12.5" fill="url(#sP)"/>
<circle cx="1618.2" cy="234.0" r="12.5" fill="url(#sP)"/>
<circle cx="1391.6" cy="207.3" r="12.5" fill="url(#sP)"/>
<circle cx="1573.7" cy="180.1" r="12.5" fill="url(#sY)"/>
<circle cx="1572.3" cy="396.6" r="12.5" fill="url(#sC)"/>
<circle cx="1488.4" cy="156.0" r="12.5" fill="url(#sG)"/>
<circle cx="1622.3" cy="246.0" r="12.5" fill="url(#sG)"/>
<circle cx="1567.0" cy="176.2" r="12.5" fill="url(#sC)"/>
<circle cx="1441.7" cy="407.4" r="12.5" fill="url(#sY)"/>
<circle cx="1624.9" cy="317.9" r="12.5" fill="url(#sP)"/>
<circle cx="1617.6" cy="339.4" r="12.5" fill="url(#sG)"/>
<circle cx="1378.8" cy="344.4" r="12.5" fill="url(#sY)"/>
<circle cx="1585.9" cy="192.5" r="12.5" fill="url(#sC)"/>
<circle cx="1547.4" cy="167.6" r="12.5" fill="url(#sC)"/>
<circle cx="1368.3" cy="308.3" r="12.5" fill="url(#sY)"/>
<circle cx="1582.4" cy="189.8" r="12.5" fill="url(#sP)"/>
<circle cx="1626.7" cy="296.7" r="12.5" fill="url(#sG)"/>
<circle cx="1368.3" cy="278.4" r="12.5" fill="url(#sY)"/>
<circle cx="1535.8" cy="410.9" r="12.5" fill="url(#sP)"/>
<circle cx="1594.1" cy="203.8" r="12.5" fill="url(#sP)"/>
<circle cx="1454.6" cy="167.6" r="12.5" fill="url(#sG)"/>
<circle cx="1425.4" cy="393.4" r="12.5" fill="url(#sP)"/>
<circle cx="1463.9" cy="410.9" r="12.5" fill="url(#sY)"/>
<circle cx="1511.3" cy="414.4" r="12.5" fill="url(#sP)"/>
<circle cx="1561.4" cy="396.9" r="12.5" fill="url(#sP)"/>
<circle cx="1409.1" cy="197.9" r="12.5" fill="url(#sP)"/>
<circle cx="1516.0" cy="165.3" r="12.5" fill="url(#sG)"/>
<circle cx="1378.8" cy="250.4" r="12.5" fill="url(#sY)"/>
<circle cx="1490.7" cy="410.9" r="12.5" fill="url(#sY)"/>
<circle cx="1498.5" cy="410.9" r="12.5" fill="url(#sY)"/>
<circle cx="1616.2" cy="309.5" r="12.5" fill="url(#sG)"/>
<circle cx="1521.8" cy="406.2" r="12.5" fill="url(#sY)"/>
<circle cx="1616.2" cy="269.0" r="12.5" fill="url(#sC)"/>
<circle cx="1617.4" cy="287.7" r="12.5" fill="url(#sG)"/>
<circle cx="1606.9" cy="238.7" r="12.5" fill="url(#sG)"/>
<circle cx="1562.6" cy="187.4" r="12.5" fill="url(#sG)"/>
<circle cx="1535.8" cy="174.6" r="12.5" fill="url(#sG)"/>
<circle cx="1394.0" cy="227.1" r="12.5" fill="url(#sP)"/>
<circle cx="1602.2" cy="344.4" r="12.5" fill="url(#sG)"/>
<circle cx="1597.6" cy="224.7" r="12.5" fill="url(#sG)"/>
<circle cx="1426.6" cy="193.3" r="12.5" fill="url(#sP)"/>
<circle cx="1384.6" cy="323.5" r="12.5" fill="url(#sY)"/>
<circle cx="1403.3" cy="357.3" r="12.5" fill="url(#sP)"/>
<circle cx="1584.7" cy="363.1" r="12.5" fill="url(#sY)"/>
<circle cx="1383.5" cy="302.5" r="12.5" fill="url(#sY)"/>
<circle cx="1489.5" cy="174.6" r="12.5" fill="url(#sG)"/>
<circle cx="1575.4" cy="207.3" r="12.5" fill="url(#sG)"/>
<circle cx="1473.2" cy="178.1" r="12.5" fill="url(#sG)"/>
<circle cx="1449.9" cy="388.7" r="12.5" fill="url(#sP)"/>
<circle cx="1414.9" cy="214.3" r="12.5" fill="url(#sP)"/>
<circle cx="1449.9" cy="188.6" r="12.5" fill="url(#sG)"/>
<circle cx="1541.6" cy="387.6" r="12.5" fill="url(#sP)"/>
<circle cx="1434.7" cy="377.1" r="12.5" fill="url(#sP)"/>
<circle cx="1599.9" cy="322.3" r="12.5" fill="url(#sG)"/>
<circle cx="1474.4" cy="393.4" r="12.5" fill="url(#sP)"/>
<circle cx="1389.3" cy="287.3" r="12.5" fill="url(#sY)"/>
<circle cx="1504.3" cy="394.6" r="12.5" fill="url(#sC)"/>
<circle cx="1398.6" cy="328.1" r="12.5" fill="url(#sP)"/>
<circle cx="1602.2" cy="297.8" r="12.5" fill="url(#sG)"/>
<circle cx="1567.3" cy="366.6" r="12.5" fill="url(#sY)"/>
<circle cx="1535.8" cy="189.8" r="12.5" fill="url(#sG)"/>
<circle cx="1595.2" cy="250.4" r="12.5" fill="url(#sC)"/>
<circle cx="1392.8" cy="276.0" r="12.5" fill="url(#sY)"/>
<circle cx="1495.3" cy="392.2" r="12.5" fill="url(#sC)"/>
<circle cx="1506.7" cy="187.4" r="12.5" fill="url(#sC)"/>
<circle cx="1498.8" cy="187.4" r="12.5" fill="url(#sC)"/>
<circle cx="1437.1" cy="207.3" r="12.5" fill="url(#sP)"/>
<circle cx="1402.1" cy="257.4" r="12.5" fill="url(#sY)"/>
<circle cx="1595.2" cy="280.7" r="12.5" fill="url(#sC)"/>
<circle cx="1524.1" cy="193.3" r="12.5" fill="url(#sG)"/>
<circle cx="1411.4" cy="239.9" r="12.5" fill="url(#sP)"/>
<circle cx="1578.9" cy="234.1" r="12.5" fill="url(#sC)"/>
<circle cx="1576.6" cy="344.4" r="12.5" fill="url(#sP)"/>
<circle cx="1423.1" cy="351.4" r="12.5" fill="url(#sP)"/>
<circle cx="1594.1" cy="288.5" r="12.5" fill="url(#sC)"/>
<circle cx="1554.4" cy="210.8" r="12.5" fill="url(#sG)"/>
<circle cx="1466.2" cy="199.1" r="12.5" fill="url(#sP)"/>
<circle cx="1585.9" cy="315.3" r="12.5" fill="url(#sY)"/>
<circle cx="1461.6" cy="373.6" r="12.5" fill="url(#sP)"/>
<circle cx="1545.1" cy="366.6" r="12.5" fill="url(#sY)"/>
<circle cx="1527.6" cy="374.7" r="12.5" fill="url(#sP)"/>
<circle cx="1504.3" cy="375.9" r="12.5" fill="url(#sC)"/>
<circle cx="1432.4" cy="228.2" r="12.5" fill="url(#sP)"/>
<circle cx="1410.3" cy="288.8" r="12.5" fill="url(#sC)"/>
<circle cx="1411.4" cy="296.7" r="12.5" fill="url(#sC)"/>
<circle cx="1497.7" cy="373.6" r="12.5" fill="url(#sC)"/>
<circle cx="1412.6" cy="279.5" r="12.5" fill="url(#sG)"/>
<circle cx="1576.6" cy="263.2" r="12.5" fill="url(#sC)"/>
<circle cx="1514.8" cy="207.3" r="12.5" fill="url(#sP)"/>
<circle cx="1483.7" cy="367.8" r="12.5" fill="url(#sG)"/>
<circle cx="1425.4" cy="325.8" r="12.5" fill="url(#sP)"/>
<circle cx="1489.5" cy="207.3" r="12.5" fill="url(#sP)"/>
<circle cx="1497.3" cy="207.3" r="12.5" fill="url(#sP)"/>
<circle cx="1451.1" cy="353.8" r="12.5" fill="url(#sP)"/>
<circle cx="1548.6" cy="345.6" r="12.5" fill="url(#sP)"/>
<circle cx="1556.8" cy="239.9" r="12.5" fill="url(#sC)"/>
<circle cx="1424.3" cy="267.9" r="12.5" fill="url(#sP)"/>
<circle cx="1462.7" cy="221.2" r="12.5" fill="url(#sP)"/>
<circle cx="1440.6" cy="243.4" r="12.5" fill="url(#sP)"/>
<circle cx="1513.6" cy="357.3" r="12.5" fill="url(#sP)"/>
<circle cx="1567.3" cy="289.7" r="12.5" fill="url(#sP)"/>
<circle cx="1527.6" cy="224.7" r="12.5" fill="url(#sP)"/>
<circle cx="1544.0" cy="238.7" r="12.5" fill="url(#sP)"/>
<circle cx="1556.8" cy="317.6" r="12.5" fill="url(#sP)"/>
<circle cx="1557.9" cy="260.9" r="12.5" fill="url(#sP)"/>
<circle cx="1475.5" cy="350.3" r="12.5" fill="url(#sP)"/>
<circle cx="1562.6" cy="285.3" r="12.5" fill="url(#sP)"/>
<circle cx="1433.6" cy="300.2" r="12.5" fill="url(#sY)"/>
<circle cx="1502.0" cy="227.1" r="12.5" fill="url(#sP)"/>
<circle cx="1451.1" cy="324.6" r="12.5" fill="url(#sP)"/>
<circle cx="1467.4" cy="335.1" r="12.5" fill="url(#sP)"/>
<circle cx="1489.5" cy="232.9" r="12.5" fill="url(#sP)"/>
<circle cx="1446.4" cy="267.9" r="12.5" fill="url(#sY)"/>
<circle cx="1525.3" cy="334.0" r="12.5" fill="url(#sG)"/>
<circle cx="1516.0" cy="239.9" r="12.5" fill="url(#sP)"/>
<circle cx="1546.3" cy="278.4" r="12.5" fill="url(#sP)"/>
<circle cx="1489.5" cy="337.4" r="12.5" fill="url(#sG)"/>
<circle cx="1545.1" cy="301.3" r="12.5" fill="url(#sP)"/>
<circle cx="1497.3" cy="337.4" r="12.5" fill="url(#sG)"/>
<circle cx="1466.2" cy="251.6" r="12.5" fill="url(#sY)"/>
<circle cx="1452.2" cy="302.5" r="12.5" fill="url(#sY)"/>
<circle cx="1534.6" cy="260.9" r="12.5" fill="url(#sP)"/>
<circle cx="1523.0" cy="318.8" r="12.5" fill="url(#sG)"/>
<circle cx="1459.2" cy="274.9" r="12.5" fill="url(#sY)"/>
<circle cx="1512.5" cy="251.6" r="12.5" fill="url(#sP)"/>
<circle cx="1503.2" cy="323.5" r="12.5" fill="url(#sC)"/>
<circle cx="1530.0" cy="285.3" r="12.5" fill="url(#sG)"/>
<circle cx="1528.8" cy="292.0" r="12.5" fill="url(#sG)"/>
<circle cx="1477.9" cy="311.8" r="12.5" fill="url(#sP)"/>
<circle cx="1467.4" cy="289.7" r="12.5" fill="url(#sY)"/>
<circle cx="1488.4" cy="263.2" r="12.5" fill="url(#sY)"/>
<circle cx="1510.2" cy="267.9" r="12.5" fill="url(#sP)"/>
<circle cx="1498.8" cy="269.0" r="12.5" fill="url(#sP)"/>
<circle cx="1482.5" cy="280.7" r="12.5" fill="url(#sY)"/>
<circle cx="1504.3" cy="292.0" r="12.5" fill="url(#sG)"/>
<circle cx="1504.3" cy="285.3" r="12.5" fill="url(#sG)"/>
<circle cx="1495.3" cy="292.0" r="12.5" fill="url(#sG)"/>
<circle cx="1496.5" cy="286.5" r="12.5" fill="url(#sG)"/>
<rect x="419.3" y="528.3" width="68.8" height="32.4" fill="#f0ea5a" stroke="#000" stroke-width="2.6"/>
<text font-size="33.4"><tspan x="512.83" y="556.80">N</tspan><tspan x="543.05" y="561.60" font-size="23.38">−</tspan><tspan x="567.63" y="556.80">G</tspan><tspan x="598.65" y="561.60" font-size="23.38">−</tspan></text>
<rect x="653.8" y="528.3" width="68.8" height="32.4" fill="#5fd0dc" stroke="#000" stroke-width="2.6"/>
<text font-size="33.4"><tspan x="747.28" y="554.30">N</tspan><tspan x="777.50" y="559.10" font-size="23.38">+</tspan><tspan x="802.08" y="554.30">G</tspan><tspan x="833.10" y="559.10" font-size="23.38">+</tspan></text>
<rect x="888.2" y="528.3" width="68.8" height="32.4" fill="#77228f" stroke="#000" stroke-width="2.6"/>
<text font-size="33.4"><tspan x="981.73" y="554.30">N</tspan><tspan x="1011.95" y="559.10" font-size="23.38">+</tspan><tspan x="1036.53" y="554.30">G</tspan><tspan x="1067.55" y="559.10" font-size="23.38">−</tspan></text>
<rect x="1122.6" y="528.3" width="68.8" height="32.4" fill="#439a55" stroke="#000" stroke-width="2.6"/>
<text font-size="33.4"><tspan x="1216.18" y="554.30">N</tspan><tspan x="1246.40" y="559.10" font-size="23.38">−</tspan><tspan x="1270.98" y="554.30">G</tspan><tspan x="1302.00" y="559.10" font-size="23.38">+</tspan></text>
<text x="-3.5" y="626.5" font-size="59" text-anchor="start" >b</text>
<text x="865.0" y="625.3" font-size="59" text-anchor="start" >c</text>
<rect x="161.2" y="680" width="330.6" height="537.4" fill="none" stroke="#000" stroke-width="2.6"/>
<rect x="508.7" y="680" width="330.6" height="537.4" fill="none" stroke="#000" stroke-width="2.6"/>
<rect x="1042.5" y="680" width="661.7" height="537.4" fill="none" stroke="#000" stroke-width="2.6"/>
<text x="312.8" y="654.4" font-size="33.4" text-anchor="start">t<tspan font-size="23.38" dy="5.2">1</tspan></text>
<text x="658.8" y="654.4" font-size="33.4" text-anchor="start">t<tspan font-size="23.38" dy="5.2">2</tspan></text>
<line x1="147.4" y1="745.5" x2="161.2" y2="745.5" stroke="#000" stroke-width="2.6"/>
<line x1="147.4" y1="881.2" x2="161.2" y2="881.2" stroke="#000" stroke-width="2.6"/>
<line x1="147.4" y1="1017" x2="161.2" y2="1017" stroke="#000" stroke-width="2.6"/>
<line x1="147.4" y1="1152.8" x2="161.2" y2="1152.8" stroke="#000" stroke-width="2.6"/>
<text transform="translate(123.9,798.1) rotate(-90)" font-size="33.4"><tspan x="-3.27" y="0.00">N</tspan><tspan x="26.95" y="4.80" font-size="23.38">−</tspan><tspan x="51.53" y="0.00">G</tspan><tspan x="82.55" y="4.80" font-size="23.38">+</tspan></text>
<text transform="translate(123.9,933.8) rotate(-90)" font-size="33.4"><tspan x="-3.27" y="0.00">N</tspan><tspan x="26.95" y="4.80" font-size="23.38">+</tspan><tspan x="51.53" y="0.00">G</tspan><tspan x="82.55" y="4.80" font-size="23.38">−</tspan></text>
<text transform="translate(123.9,1069.6) rotate(-90)" font-size="33.4"><tspan x="-3.27" y="0.00">N</tspan><tspan x="26.95" y="4.80" font-size="23.38">+</tspan><tspan x="51.53" y="0.00">G</tspan><tspan x="82.55" y="4.80" font-size="23.38">+</tspan></text>
<text transform="translate(123.9,1205.4) rotate(-90)" font-size="33.4"><tspan x="-3.27" y="0.00">N</tspan><tspan x="26.95" y="4.80" font-size="23.38">−</tspan><tspan x="51.53" y="0.00">G</tspan><tspan x="82.55" y="4.80" font-size="23.38">−</tspan></text>
<text transform="translate(59.3,951.2) rotate(-90)" font-size="33.4" text-anchor="middle">cell type</text>
<line x1="202.6" y1="1217.4" x2="202.6" y2="1231.2" stroke="#000" stroke-width="2.6"/>
<text x="202.6" y="1272.2" font-size="33.4" text-anchor="middle" >0</text>
<line x1="285.2" y1="1217.4" x2="285.2" y2="1231.2" stroke="#000" stroke-width="2.6"/>
<text x="285.2" y="1272.2" font-size="33.4" text-anchor="middle" >0.2</text>
<line x1="367.8" y1="1217.4" x2="367.8" y2="1231.2" stroke="#000" stroke-width="2.6"/>
<text x="367.8" y="1272.2" font-size="33.4" text-anchor="middle" >0.4</text>
<line x1="450.4" y1="1217.4" x2="450.4" y2="1231.2" stroke="#000" stroke-width="2.6"/>
<text x="450.4" y="1272.2" font-size="33.4" text-anchor="middle" >0.6</text>
<line x1="549.8" y1="1217.4" x2="549.8" y2="1231.2" stroke="#000" stroke-width="2.6"/>
<text x="549.8" y="1272.2" font-size="33.4" text-anchor="middle" >0</text>
<line x1="632.4" y1="1217.4" x2="632.4" y2="1231.2" stroke="#000" stroke-width="2.6"/>
<text x="632.4" y="1272.2" font-size="33.4" text-anchor="middle" >0.2</text>
<line x1="715.0" y1="1217.4" x2="715.0" y2="1231.2" stroke="#000" stroke-width="2.6"/>
<text x="715.0" y="1272.2" font-size="33.4" text-anchor="middle" >0.4</text>
<line x1="797.6" y1="1217.4" x2="797.6" y2="1231.2" stroke="#000" stroke-width="2.6"/>
<text x="797.6" y="1272.2" font-size="33.4" text-anchor="middle" >0.6</text>
<text x="499.5" y="1319.5" font-size="33.4" text-anchor="middle">proportion of cells (H<tspan font-size="23.38" dy="5.8">1</tspan><tspan dy="-5.8">)</tspan></text>
<line x1="233.6" y1="786.4" x2="391.0" y2="786.4" stroke="#000" stroke-width="5"/>
<line x1="233.6" y1="778.1" x2="233.6" y2="794.6" stroke="#000" stroke-width="3.7"/>
<line x1="391.0" y1="778.1" x2="391.0" y2="794.6" stroke="#000" stroke-width="3.7"/>
<path d="M312.5,778.0 L320.9,794.8 L304.1,794.8 Z" fill="#fff" stroke="#000" stroke-width="3.6" stroke-linejoin="miter" stroke-miterlimit="10"/>
<line x1="302.2" y1="704.3" x2="318.7" y2="704.3" stroke="#000" stroke-width="5"/>
<line x1="302.2" y1="696.1" x2="302.2" y2="712.5" stroke="#000" stroke-width="3.7"/>
<line x1="318.7" y1="696.1" x2="318.7" y2="712.5" stroke="#000" stroke-width="3.7"/>
<circle cx="310.2" cy="704.3" r="8.15" fill="#fff" stroke="#000" stroke-width="3.9"/>
<line x1="297.0" y1="731.8" x2="320.3" y2="731.8" stroke="#000" stroke-width="5"/>
<line x1="297.0" y1="723.6" x2="297.0" y2="740.0" stroke="#000" stroke-width="3.7"/>
<line x1="320.3" y1="723.6" x2="320.3" y2="740.0" stroke="#000" stroke-width="3.7"/>
<circle cx="308.6" cy="731.8" r="8.15" fill="#fff" stroke="#000" stroke-width="3.9"/>
<line x1="295.1" y1="759.2" x2="321.4" y2="759.2" stroke="#000" stroke-width="5"/>
<line x1="295.1" y1="751.0" x2="295.1" y2="767.4" stroke="#000" stroke-width="3.7"/>
<line x1="321.4" y1="751.0" x2="321.4" y2="767.4" stroke="#000" stroke-width="3.7"/>
<circle cx="308.1" cy="759.2" r="8.15" fill="#fff" stroke="#000" stroke-width="3.9"/>
<line x1="296.0" y1="922.1" x2="428.3" y2="922.1" stroke="#000" stroke-width="5"/>
<line x1="296.0" y1="913.9" x2="296.0" y2="930.4" stroke="#000" stroke-width="3.7"/>
<line x1="428.3" y1="913.9" x2="428.3" y2="930.4" stroke="#000" stroke-width="3.7"/>
<path d="M362.0,913.7 L370.4,930.5 L353.6,930.5 Z" fill="#fff" stroke="#000" stroke-width="3.6" stroke-linejoin="miter" stroke-miterlimit="10"/>
<line x1="355.5" y1="840.0" x2="374.3" y2="840.0" stroke="#000" stroke-width="5"/>
<line x1="355.5" y1="831.8" x2="355.5" y2="848.2" stroke="#000" stroke-width="3.7"/>
<line x1="374.3" y1="831.8" x2="374.3" y2="848.2" stroke="#000" stroke-width="3.7"/>
<circle cx="364.0" cy="840.0" r="8.15" fill="#fff" stroke="#000" stroke-width="3.9"/>
<line x1="350.5" y1="867.5" x2="377.0" y2="867.5" stroke="#000" stroke-width="5"/>
<line x1="350.5" y1="859.3" x2="350.5" y2="875.7" stroke="#000" stroke-width="3.7"/>
<line x1="377.0" y1="859.3" x2="377.0" y2="875.7" stroke="#000" stroke-width="3.7"/>
<circle cx="363.4" cy="867.5" r="8.15" fill="#fff" stroke="#000" stroke-width="3.9"/>
<line x1="351.0" y1="894.9" x2="380.0" y2="894.9" stroke="#000" stroke-width="5"/>
<line x1="351.0" y1="886.7" x2="351.0" y2="903.1" stroke="#000" stroke-width="3.7"/>
<line x1="380.0" y1="886.7" x2="380.0" y2="903.1" stroke="#000" stroke-width="3.7"/>
<circle cx="365.0" cy="894.9" r="8.15" fill="#fff" stroke="#000" stroke-width="3.9"/>
<line x1="220.8" y1="1057.9" x2="276.4" y2="1057.9" stroke="#000" stroke-width="5"/>
<line x1="220.8" y1="1049.7" x2="220.8" y2="1066.2" stroke="#000" stroke-width="3.7"/>
<line x1="276.4" y1="1049.7" x2="276.4" y2="1066.2" stroke="#000" stroke-width="3.7"/>
<path d="M248.6,1049.5 L257.0,1066.3 L240.2,1066.3 Z" fill="#fff" stroke="#000" stroke-width="3.6" stroke-linejoin="miter" stroke-miterlimit="10"/>
<line x1="240.8" y1="975.8" x2="256.4" y2="975.8" stroke="#000" stroke-width="5"/>
<line x1="240.8" y1="967.6" x2="240.8" y2="984.0" stroke="#000" stroke-width="3.7"/>
<line x1="256.4" y1="967.6" x2="256.4" y2="984.0" stroke="#000" stroke-width="3.7"/>
<circle cx="248.6" cy="975.8" r="8.15" fill="#fff" stroke="#000" stroke-width="3.9"/>
<line x1="240.8" y1="1003.3" x2="256.4" y2="1003.3" stroke="#000" stroke-width="5"/>
<line x1="240.8" y1="995.1" x2="240.8" y2="1011.5" stroke="#000" stroke-width="3.7"/>
<line x1="256.4" y1="995.1" x2="256.4" y2="1011.5" stroke="#000" stroke-width="3.7"/>
<circle cx="248.6" cy="1003.3" r="8.15" fill="#fff" stroke="#000" stroke-width="3.9"/>
<line x1="238.5" y1="1030.7" x2="258.6" y2="1030.7" stroke="#000" stroke-width="5"/>
<line x1="238.5" y1="1022.5" x2="238.5" y2="1038.9" stroke="#000" stroke-width="3.7"/>
<line x1="258.6" y1="1022.5" x2="258.6" y2="1038.9" stroke="#000" stroke-width="3.7"/>
<circle cx="248.6" cy="1030.7" r="8.15" fill="#fff" stroke="#000" stroke-width="3.9"/>
<line x1="232.0" y1="1193.7" x2="369.0" y2="1193.7" stroke="#000" stroke-width="5"/>
<line x1="232.0" y1="1185.5" x2="232.0" y2="1202.0" stroke="#000" stroke-width="3.7"/>
<line x1="369.0" y1="1185.5" x2="369.0" y2="1202.0" stroke="#000" stroke-width="3.7"/>
<path d="M300.3,1185.3 L308.7,1202.1 L291.9,1202.1 Z" fill="#fff" stroke="#000" stroke-width="3.6" stroke-linejoin="miter" stroke-miterlimit="10"/>
<line x1="291.4" y1="1111.6" x2="311.1" y2="1111.6" stroke="#000" stroke-width="5"/>
<line x1="291.4" y1="1103.4" x2="291.4" y2="1119.8" stroke="#000" stroke-width="3.7"/>
<line x1="311.1" y1="1103.4" x2="311.1" y2="1119.8" stroke="#000" stroke-width="3.7"/>
<circle cx="301.3" cy="1111.6" r="8.15" fill="#fff" stroke="#000" stroke-width="3.9"/>
<line x1="292.0" y1="1139.1" x2="314.8" y2="1139.1" stroke="#000" stroke-width="5"/>
<line x1="292.0" y1="1130.9" x2="292.0" y2="1147.3" stroke="#000" stroke-width="3.7"/>
<line x1="314.8" y1="1130.9" x2="314.8" y2="1147.3" stroke="#000" stroke-width="3.7"/>
<circle cx="303.0" cy="1139.1" r="8.15" fill="#fff" stroke="#000" stroke-width="3.9"/>
<line x1="288.5" y1="1166.5" x2="315.3" y2="1166.5" stroke="#000" stroke-width="5"/>
<line x1="288.5" y1="1158.3" x2="288.5" y2="1174.7" stroke="#000" stroke-width="3.7"/>
<line x1="315.3" y1="1158.3" x2="315.3" y2="1174.7" stroke="#000" stroke-width="3.7"/>
<circle cx="301.7" cy="1166.5" r="8.15" fill="#fff" stroke="#000" stroke-width="3.9"/>
<line x1="642.0" y1="786.4" x2="793.6" y2="786.4" stroke="#000" stroke-width="5"/>
<line x1="642.0" y1="778.1" x2="642.0" y2="794.6" stroke="#000" stroke-width="3.7"/>
<line x1="793.6" y1="778.1" x2="793.6" y2="794.6" stroke="#000" stroke-width="3.7"/>
<path d="M717.8,778.0 L726.2,794.8 L709.4,794.8 Z" fill="#fff" stroke="#000" stroke-width="3.6" stroke-linejoin="miter" stroke-miterlimit="10"/>
<line x1="649.7" y1="704.3" x2="666.4" y2="704.3" stroke="#000" stroke-width="5"/>
<line x1="649.7" y1="696.1" x2="649.7" y2="712.5" stroke="#000" stroke-width="3.7"/>
<line x1="666.4" y1="696.1" x2="666.4" y2="712.5" stroke="#000" stroke-width="3.7"/>
<circle cx="657.8" cy="704.3" r="8.15" fill="#fff" stroke="#000" stroke-width="3.9"/>
<line x1="643.7" y1="731.8" x2="668.8" y2="731.8" stroke="#000" stroke-width="5"/>
<line x1="643.7" y1="723.6" x2="643.7" y2="740.0" stroke="#000" stroke-width="3.7"/>
<line x1="668.8" y1="723.6" x2="668.8" y2="740.0" stroke="#000" stroke-width="3.7"/>
<circle cx="655.7" cy="731.8" r="8.15" fill="#fff" stroke="#000" stroke-width="3.9"/>
<line x1="642.0" y1="759.2" x2="669.0" y2="759.2" stroke="#000" stroke-width="5"/>
<line x1="642.0" y1="751.0" x2="642.0" y2="767.4" stroke="#000" stroke-width="3.7"/>
<line x1="669.0" y1="751.0" x2="669.0" y2="767.4" stroke="#000" stroke-width="3.7"/>
<circle cx="655.1" cy="759.2" r="8.15" fill="#fff" stroke="#000" stroke-width="3.9"/>
<polygon points="686.80,696.40 688.57,701.86 694.31,701.86 689.67,705.23 691.44,710.69 686.80,707.32 682.16,710.69 683.93,705.23 679.29,701.86 685.03,701.86" fill="#000"/>
<polygon points="688.50,723.90 690.27,729.36 696.01,729.36 691.37,732.73 693.14,738.19 688.50,734.82 683.86,738.19 685.63,732.73 680.99,729.36 686.73,729.36" fill="#000"/>
<polygon points="689.20,751.30 690.97,756.76 696.71,756.76 692.07,760.13 693.84,765.59 689.20,762.22 684.56,765.59 686.33,760.13 681.69,756.76 687.43,756.76" fill="#000"/>
<line x1="622.3" y1="922.1" x2="764.8" y2="922.1" stroke="#000" stroke-width="5"/>
<line x1="622.3" y1="913.9" x2="622.3" y2="930.4" stroke="#000" stroke-width="3.7"/>
<line x1="764.8" y1="913.9" x2="764.8" y2="930.4" stroke="#000" stroke-width="3.7"/>
<path d="M693.2,913.7 L701.6,930.5 L684.8,930.5 Z" fill="#fff" stroke="#000" stroke-width="3.6" stroke-linejoin="miter" stroke-miterlimit="10"/>
<line x1="700.5" y1="840.0" x2="721.3" y2="840.0" stroke="#000" stroke-width="5"/>
<line x1="700.5" y1="831.8" x2="700.5" y2="848.2" stroke="#000" stroke-width="3.7"/>
<line x1="721.3" y1="831.8" x2="721.3" y2="848.2" stroke="#000" stroke-width="3.7"/>
<circle cx="710.7" cy="840.0" r="8.15" fill="#fff" stroke="#000" stroke-width="3.9"/>
<line x1="697.0" y1="867.5" x2="725.0" y2="867.5" stroke="#000" stroke-width="5"/>
<line x1="697.0" y1="859.3" x2="697.0" y2="875.7" stroke="#000" stroke-width="3.7"/>
<line x1="725.0" y1="859.3" x2="725.0" y2="875.7" stroke="#000" stroke-width="3.7"/>
<circle cx="711.0" cy="867.5" r="8.15" fill="#fff" stroke="#000" stroke-width="3.9"/>
<line x1="699.0" y1="894.9" x2="728.0" y2="894.9" stroke="#000" stroke-width="5"/>
<line x1="699.0" y1="886.7" x2="699.0" y2="903.1" stroke="#000" stroke-width="3.7"/>
<line x1="728.0" y1="886.7" x2="728.0" y2="903.1" stroke="#000" stroke-width="3.7"/>
<circle cx="713.5" cy="894.9" r="8.15" fill="#fff" stroke="#000" stroke-width="3.9"/>
<polygon points="741.80,832.10 743.57,837.56 749.31,837.56 744.67,840.93 746.44,846.39 741.80,843.02 737.16,846.39 738.93,840.93 734.29,837.56 740.03,837.56" fill="#000"/>
<polygon points="745.90,859.60 747.67,865.06 753.41,865.06 748.77,868.43 750.54,873.89 745.90,870.52 741.26,873.89 743.03,868.43 738.39,865.06 744.13,865.06" fill="#000"/>
<polygon points="749.00,887.00 750.77,892.46 756.51,892.46 751.87,895.83 753.64,901.29 749.00,897.92 744.36,901.29 746.13,895.83 741.49,892.46 747.23,892.46" fill="#000"/>
<line x1="549.2" y1="1057.9" x2="589.8" y2="1057.9" stroke="#000" stroke-width="5"/>
<line x1="549.2" y1="1049.7" x2="549.2" y2="1066.2" stroke="#000" stroke-width="3.7"/>
<line x1="589.8" y1="1049.7" x2="589.8" y2="1066.2" stroke="#000" stroke-width="3.7"/>
<path d="M569.7,1049.5 L578.1,1066.3 L561.3,1066.3 Z" fill="#fff" stroke="#000" stroke-width="3.6" stroke-linejoin="miter" stroke-miterlimit="10"/>
<line x1="588.1" y1="975.8" x2="603.7" y2="975.8" stroke="#000" stroke-width="5"/>
<line x1="588.1" y1="967.6" x2="588.1" y2="984.0" stroke="#000" stroke-width="3.7"/>
<line x1="603.7" y1="967.6" x2="603.7" y2="984.0" stroke="#000" stroke-width="3.7"/>
<circle cx="595.9" cy="975.8" r="8.15" fill="#fff" stroke="#000" stroke-width="3.9"/>
<line x1="587.7" y1="1003.3" x2="603.3" y2="1003.3" stroke="#000" stroke-width="5"/>
<line x1="587.7" y1="995.1" x2="587.7" y2="1011.5" stroke="#000" stroke-width="3.7"/>
<line x1="603.3" y1="995.1" x2="603.3" y2="1011.5" stroke="#000" stroke-width="3.7"/>
<circle cx="595.5" cy="1003.3" r="8.15" fill="#fff" stroke="#000" stroke-width="3.9"/>
<line x1="584.8" y1="1030.7" x2="606.5" y2="1030.7" stroke="#000" stroke-width="5"/>
<line x1="584.8" y1="1022.5" x2="584.8" y2="1038.9" stroke="#000" stroke-width="3.7"/>
<line x1="606.5" y1="1022.5" x2="606.5" y2="1038.9" stroke="#000" stroke-width="3.7"/>
<circle cx="594.9" cy="1030.7" r="8.15" fill="#fff" stroke="#000" stroke-width="3.9"/>
<polygon points="624.00,967.90 625.77,973.36 631.51,973.36 626.87,976.73 628.64,982.19 624.00,978.82 619.36,982.19 621.13,976.73 616.49,973.36 622.23,973.36" fill="#000"/>
<polygon points="623.40,995.40 625.17,1000.86 630.91,1000.86 626.27,1004.23 628.04,1009.69 623.40,1006.32 618.76,1009.69 620.53,1004.23 615.89,1000.86 621.63,1000.86" fill="#000"/>
<polygon points="626.00,1022.80 627.77,1028.26 633.51,1028.26 628.87,1031.63 630.64,1037.09 626.00,1033.72 621.36,1037.09 623.13,1031.63 618.49,1028.26 624.23,1028.26" fill="#000"/>
<line x1="577.9" y1="1193.7" x2="685.5" y2="1193.7" stroke="#000" stroke-width="5"/>
<line x1="577.9" y1="1185.5" x2="577.9" y2="1202.0" stroke="#000" stroke-width="3.7"/>
<line x1="685.5" y1="1185.5" x2="685.5" y2="1202.0" stroke="#000" stroke-width="3.7"/>
<path d="M631.6,1185.3 L640.0,1202.1 L623.2,1202.1 Z" fill="#fff" stroke="#000" stroke-width="3.6" stroke-linejoin="miter" stroke-miterlimit="10"/>
<line x1="637.5" y1="1111.6" x2="660.0" y2="1111.6" stroke="#000" stroke-width="5"/>
<line x1="637.5" y1="1103.4" x2="637.5" y2="1119.8" stroke="#000" stroke-width="3.7"/>
<line x1="660.0" y1="1103.4" x2="660.0" y2="1119.8" stroke="#000" stroke-width="3.7"/>
<circle cx="648.6" cy="1111.6" r="8.15" fill="#fff" stroke="#000" stroke-width="3.9"/>
<line x1="638.5" y1="1139.1" x2="662.0" y2="1139.1" stroke="#000" stroke-width="5"/>
<line x1="638.5" y1="1130.9" x2="638.5" y2="1147.3" stroke="#000" stroke-width="3.7"/>
<line x1="662.0" y1="1130.9" x2="662.0" y2="1147.3" stroke="#000" stroke-width="3.7"/>
<circle cx="650.2" cy="1139.1" r="8.15" fill="#fff" stroke="#000" stroke-width="3.9"/>
<line x1="635.5" y1="1166.5" x2="663.0" y2="1166.5" stroke="#000" stroke-width="5"/>
<line x1="635.5" y1="1158.3" x2="635.5" y2="1174.7" stroke="#000" stroke-width="3.7"/>
<line x1="663.0" y1="1158.3" x2="663.0" y2="1174.7" stroke="#000" stroke-width="3.7"/>
<circle cx="649.2" cy="1166.5" r="8.15" fill="#fff" stroke="#000" stroke-width="3.9"/>
<polygon points="680.00,1103.70 681.77,1109.16 687.51,1109.16 682.87,1112.53 684.64,1117.99 680.00,1114.62 675.36,1117.99 677.13,1112.53 672.49,1109.16 678.23,1109.16" fill="#000"/>
<polygon points="682.00,1131.20 683.77,1136.66 689.51,1136.66 684.87,1140.03 686.64,1145.49 682.00,1142.12 677.36,1145.49 679.13,1140.03 674.49,1136.66 680.23,1136.66" fill="#000"/>
<polygon points="683.80,1158.60 685.57,1164.06 691.31,1164.06 686.67,1167.43 688.44,1172.89 683.80,1169.52 679.16,1172.89 680.93,1167.43 676.29,1164.06 682.03,1164.06" fill="#000"/>
<rect x="700.9" y="1096.2" width="124.2" height="105.2" rx="4.5" fill="#fff" fill-opacity="0.8" stroke="#cccccc" stroke-width="3"/>
<path d="M727.7,1118.1 L736.3,1135.3 L719.1,1135.3 Z" fill="#fff" stroke="#000" stroke-width="3.6" stroke-linejoin="miter" stroke-miterlimit="10"/>
<circle cx="727.7" cy="1174.4" r="8.2" fill="#fff" stroke="#000" stroke-width="3.9"/>
<text x="750.5" y="1134.8" font-size="33.4" text-anchor="start" >exp</text>
<text x="750.5" y="1183.3" font-size="33.4" text-anchor="start" >sim</text>
<line x1="1028.7" y1="787.4" x2="1042.5" y2="787.4" stroke="#000" stroke-width="2.6"/>
<text x="1014.5" y="800.4" font-size="33.4" text-anchor="end" >4.5</text>
<line x1="1028.7" y1="930.9" x2="1042.5" y2="930.9" stroke="#000" stroke-width="2.6"/>
<text x="1014.5" y="943.9" font-size="33.4" text-anchor="end" >4.0</text>
<line x1="1028.7" y1="1074.4" x2="1042.5" y2="1074.4" stroke="#000" stroke-width="2.6"/>
<text x="1014.5" y="1087.4" font-size="33.4" text-anchor="end" >3.5</text>
<line x1="1072.7" y1="1217.4" x2="1072.7" y2="1231.2" stroke="#000" stroke-width="2.6"/>
<text x="1072.7" y="1272.2" font-size="33.4" text-anchor="middle" >200</text>
<line x1="1373.3" y1="1217.4" x2="1373.3" y2="1231.2" stroke="#000" stroke-width="2.6"/>
<text x="1373.3" y="1272.2" font-size="33.4" text-anchor="middle" >300</text>
<line x1="1674.0" y1="1217.4" x2="1674.0" y2="1231.2" stroke="#000" stroke-width="2.6"/>
<text x="1674.0" y="1272.2" font-size="33.4" text-anchor="middle" >400</text>
<text x="1373.2" y="1320.6" font-size="33.4" text-anchor="middle">cell count at t<tspan font-size="23.38" dy="5.2">0</tspan></text>
<text transform="translate(927.2,952.3) rotate(-90)" font-size="33.4" text-anchor="middle"><tspan font-size="46.6" dy="0.5">∑</tspan><tspan font-style="italic" dy="-0.5">ψ</tspan> at t<tspan font-size="23.38" dy="5.2">1</tspan></text>
<polyline points="1072.7,750.1 1373.3,844.8 1674.0,715.6" fill="none" stroke="#999999" stroke-width="5.3" stroke-dasharray="5.3 11.2"/>
<polyline points="1072.7,825.0 1373.3,825.0 1674.0,707.0" fill="none" stroke="#666666" stroke-width="5.3" stroke-dasharray="5.3 11.2"/>
<polyline points="1072.7,1193.2 1373.3,967.9 1674.0,717.7" fill="none" stroke="#333333" stroke-width="5.3" stroke-dasharray="5.3 11.2"/>
<polyline points="1072.7,1193.2 1373.3,968.2 1674.0,758.7" fill="none" stroke="#000000" stroke-width="5.3" stroke-dasharray="5.3 11.2"/>
<rect x="1060.7" y="738.1" width="24" height="24" stroke="#999999" stroke-width="3.5" fill="none"/>
<rect x="1361.3" y="832.8" width="24" height="24" stroke="#999999" stroke-width="3.5" fill="none"/>
<rect x="1662.0" y="703.6" width="24" height="24" stroke="#999999" stroke-width="3.5" fill="none"/>
<path d="M1072.7,812.5L1085.2,837.5L1060.2,837.5Z" stroke="#666666" stroke-width="3.5" fill="none"/>
<path d="M1373.3,812.5L1385.8,837.5L1360.8,837.5Z" stroke="#666666" stroke-width="3.5" fill="none"/>
<path d="M1674.0,694.5L1686.5,719.5L1661.5,719.5Z" stroke="#666666" stroke-width="3.5" fill="none"/>
<circle cx="1072.7" cy="1193.2" r="12" stroke="#333333" stroke-width="3.5" fill="none"/>
<circle cx="1373.3" cy="967.9" r="12" stroke="#333333" stroke-width="3.5" fill="none"/>
<circle cx="1674.0" cy="717.7" r="12" stroke="#333333" stroke-width="3.5" fill="none"/>
<path d="M1060.2,1180.7L1085.2,1205.7M1060.2,1205.7L1085.2,1180.7" stroke="#000000" stroke-width="3.5" fill="none"/>
<path d="M1360.8,955.7L1385.8,980.7M1360.8,980.7L1385.8,955.7" stroke="#000000" stroke-width="3.5" fill="none"/>
<path d="M1661.5,746.2L1686.5,771.2M1661.5,771.2L1686.5,746.2" stroke="#000000" stroke-width="3.5" fill="none"/>
<rect x="1529.3" y="993.5" width="162.3" height="211.1" rx="7" fill="#fff" fill-opacity="0.8" stroke="#cccccc" stroke-width="3"/>
<line x1="1543" y1="1020.4" x2="1609.5" y2="1020.4" stroke="#000000" stroke-width="5.3" stroke-dasharray="5.3 11.2"/>
<path d="M1563.7,1007.9L1588.7,1032.9M1563.7,1032.9L1588.7,1007.9" stroke="#000000" stroke-width="3.5" fill="none"/>
<text x="1635.5" y="1032.2" font-size="33.4">H<tspan font-size="23.38" dy="6.2">1</tspan></text>
<line x1="1543" y1="1070.7" x2="1609.5" y2="1070.7" stroke="#333333" stroke-width="5.3" stroke-dasharray="5.3 11.2"/>
<circle cx="1576.2" cy="1070.7" r="12" stroke="#333333" stroke-width="3.5" fill="none"/>
<text x="1635.5" y="1082.5" font-size="33.4">H<tspan font-size="23.38" dy="6.2">2</tspan></text>
<line x1="1543" y1="1121.0" x2="1609.5" y2="1121.0" stroke="#666666" stroke-width="5.3" stroke-dasharray="5.3 11.2"/>
<path d="M1576.2,1108.5L1588.7,1133.5L1563.7,1133.5Z" stroke="#666666" stroke-width="3.5" fill="none"/>
<text x="1635.5" y="1132.8" font-size="33.4">H<tspan font-size="23.38" dy="6.2">3</tspan></text>
<line x1="1543" y1="1171.3" x2="1609.5" y2="1171.3" stroke="#999999" stroke-width="5.3" stroke-dasharray="5.3 11.2"/>
<rect x="1564.2" y="1159.3" width="24" height="24" stroke="#999999" stroke-width="3.5" fill="none"/>
<text x="1635.5" y="1183.1" font-size="33.4">H<tspan font-size="23.38" dy="6.2">4</tspan></text>
</svg></body></html>
